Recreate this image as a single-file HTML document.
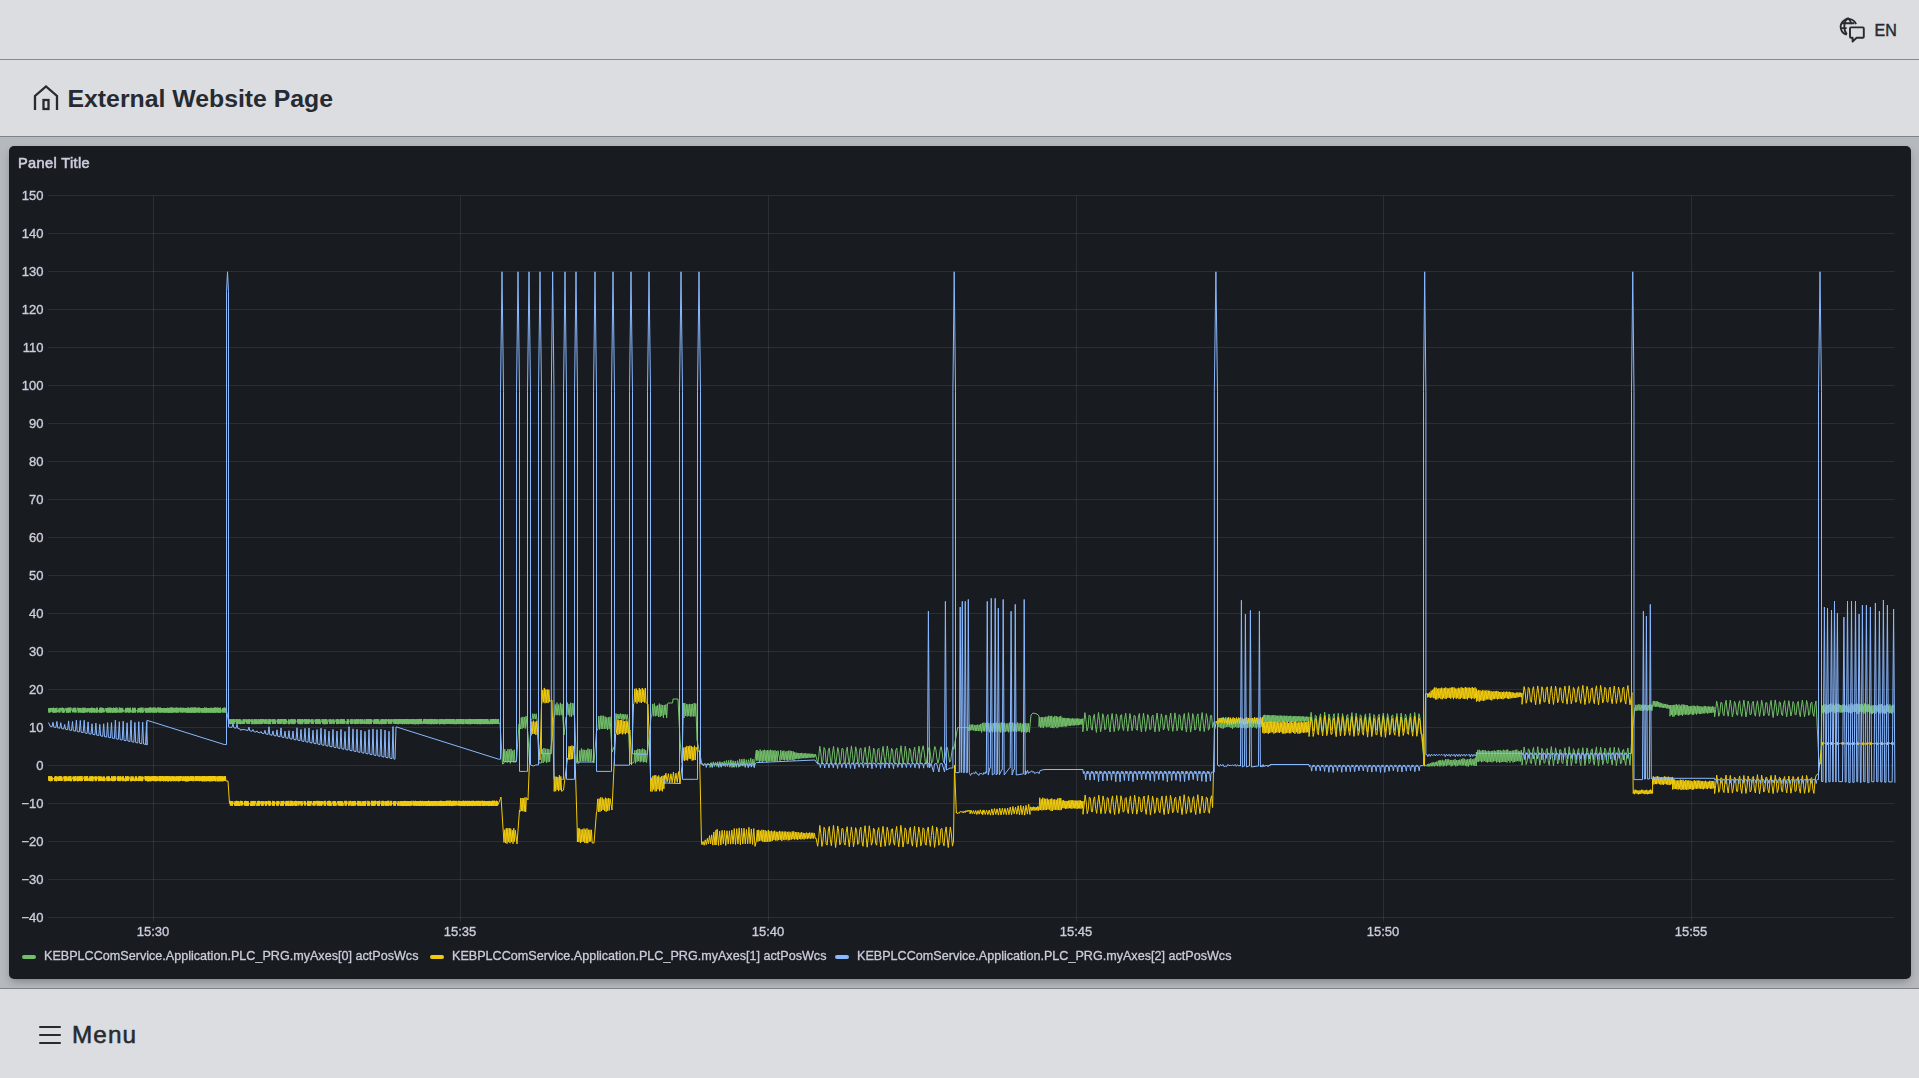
<!DOCTYPE html>
<html><head><meta charset="utf-8">
<style>
*{margin:0;padding:0;box-sizing:border-box}
html,body{width:1919px;height:1078px;overflow:hidden;background:#dcdde0;font-family:"Liberation Sans",sans-serif}
.ptitle,.yl,.xl,.lg{will-change:transform}
.hdr{position:absolute;left:0;top:0;width:1919px;height:59px;background:#dcdde0}
.l1{position:absolute;left:0;top:59px;width:1919px;height:1px;background:#878b90}
.tb{position:absolute;left:0;top:60px;width:1919px;height:76px;background:#dcdde0}
.l2{position:absolute;left:0;top:136px;width:1919px;height:1px;background:#7f8388}
.cont{position:absolute;left:0;top:137px;width:1919px;height:851px;background:#b5b9bd;overflow:hidden}
.l3{position:absolute;left:0;top:988px;width:1919px;height:1px;background:#7f8388}
.ftr{position:absolute;left:0;top:989px;width:1919px;height:89px;background:#dcdde0}
.panel{position:absolute;left:9px;top:146px;width:1902px;height:832.5px;background:#181b1f;border-radius:5px;box-shadow:0 4px 8px -2px rgba(0,0,0,0.32)}
.title{position:absolute;left:67.5px;top:85px;font-size:24.8px;font-weight:bold;color:#262a31;line-height:28px;white-space:nowrap}
.menu{position:absolute;left:72px;top:1020.5px;font-size:24.3px;letter-spacing:1.1px;color:#262a31;line-height:28px;white-space:nowrap;-webkit-text-stroke:0.55px #262a31}
.en{position:absolute;left:1874.5px;top:22px;font-size:16px;color:#262a31;line-height:18px;-webkit-text-stroke:0.45px #262a31}
.ptitle{position:absolute;left:17.5px;top:155.3px;font-size:14.6px;letter-spacing:0.35px;color:#ccccdc;-webkit-text-stroke:0.6px #ccccdc;line-height:16px;white-space:nowrap}
.yl{position:absolute;left:0;width:43.5px;text-align:right;font-size:13px;color:#ccccdc;-webkit-text-stroke:0.35px #ccccdc;line-height:14px}
.xl{position:absolute;top:924.5px;width:80px;text-align:center;font-size:13px;color:#ccccdc;-webkit-text-stroke:0.35px #ccccdc;line-height:14px}
.lg{position:absolute;top:949px;font-size:12.6px;color:#cbcbdb;-webkit-text-stroke:0.3px #cbcbdb;line-height:14px;white-space:nowrap}
.sw{position:absolute;top:955px;width:14px;height:4px;border-radius:2px}
svg{position:absolute;left:0;top:0}
</style></head><body>
<div class="hdr"></div><div class="l1"></div>
<div class="tb"></div><div class="l2"></div>
<div class="cont"></div>
<div class="panel"></div>
<div class="l3"></div><div class="ftr"></div>

<svg width="1919" height="1078" viewBox="0 0 1919 1078" style="pointer-events:none">
<g stroke="rgba(240,250,255,0.09)" stroke-width="1" fill="none"><line x1="48.5" y1="195.5" x2="1894.5" y2="195.5"/><line x1="48.5" y1="233.5" x2="1894.5" y2="233.5"/><line x1="48.5" y1="271.5" x2="1894.5" y2="271.5"/><line x1="48.5" y1="309.5" x2="1894.5" y2="309.5"/><line x1="48.5" y1="347.5" x2="1894.5" y2="347.5"/><line x1="48.5" y1="385.5" x2="1894.5" y2="385.5"/><line x1="48.5" y1="423.5" x2="1894.5" y2="423.5"/><line x1="48.5" y1="461.5" x2="1894.5" y2="461.5"/><line x1="48.5" y1="499.5" x2="1894.5" y2="499.5"/><line x1="48.5" y1="537.5" x2="1894.5" y2="537.5"/><line x1="48.5" y1="575.5" x2="1894.5" y2="575.5"/><line x1="48.5" y1="613.5" x2="1894.5" y2="613.5"/><line x1="48.5" y1="651.5" x2="1894.5" y2="651.5"/><line x1="48.5" y1="689.5" x2="1894.5" y2="689.5"/><line x1="48.5" y1="727.5" x2="1894.5" y2="727.5"/><line x1="48.5" y1="765.5" x2="1894.5" y2="765.5"/><line x1="48.5" y1="803.5" x2="1894.5" y2="803.5"/><line x1="48.5" y1="841.5" x2="1894.5" y2="841.5"/><line x1="48.5" y1="879.5" x2="1894.5" y2="879.5"/><line x1="48.5" y1="917.5" x2="1894.5" y2="917.5"/><line x1="153.5" y1="195.5" x2="153.5" y2="921.5"/><line x1="460.5" y1="195.5" x2="460.5" y2="921.5"/><line x1="768.5" y1="195.5" x2="768.5" y2="921.5"/><line x1="1076.5" y1="195.5" x2="1076.5" y2="921.5"/><line x1="1383.5" y1="195.5" x2="1383.5" y2="921.5"/><line x1="1691.5" y1="195.5" x2="1691.5" y2="921.5"/></g>
<g fill="none" stroke-width="1" stroke-linejoin="round">
<path stroke="#73bf69" d="M48.50 708.15 L48.85 712.57 L49.20 708.20 L49.55 712.50 L49.90 708.01 L50.25 712.19 L50.60 707.92 L50.95 712.17 L51.30 707.97 L51.65 709.87 L52.00 710.14 L52.35 712.23 L52.70 708.10 L53.05 712.56 L53.40 707.63 L53.75 712.53 L54.10 707.99 L54.45 712.78 L54.80 708.22 L55.15 712.71 L55.50 708.06 L55.85 712.24 L56.20 708.17 L56.55 712.35 L56.90 707.72 L57.25 712.27 L57.60 710.31 L57.95 710.10 L58.30 710.24 L58.65 712.19 L59.00 708.12 L59.35 712.59 L59.70 707.97 L60.05 712.35 L60.40 707.87 L60.75 710.04 L61.10 710.44 L61.45 710.36 L61.80 707.88 L62.15 712.49 L62.50 707.68 L62.85 712.62 L63.20 708.06 L63.55 712.79 L63.90 708.17 L64.25 712.42 L64.60 709.92 L64.95 710.19 L65.30 709.83 L65.65 710.33 L66.00 707.88 L66.35 712.72 L66.70 708.05 L67.05 712.60 L67.40 707.86 L67.75 712.53 L68.10 707.95 L68.45 712.70 L68.80 707.64 L69.15 712.46 L69.50 707.82 L69.85 712.19 L70.20 707.79 L70.55 712.57 L70.90 707.60 L71.25 710.03 L71.60 710.11 L71.95 710.33 L72.30 709.82 L72.65 712.26 L73.00 708.17 L73.35 712.19 L73.70 707.75 L74.05 712.23 L74.40 708.09 L74.75 712.40 L75.10 707.68 L75.45 712.20 L75.80 707.96 L76.15 712.51 L76.50 710.46 L76.85 710.49 L77.20 710.02 L77.55 710.13 L77.90 707.68 L78.25 712.77 L78.60 708.15 L78.95 712.26 L79.30 708.10 L79.65 712.30 L80.00 707.93 L80.35 712.53 L80.70 708.08 L81.05 710.14 L81.40 710.10 L81.75 712.77 L82.10 707.80 L82.45 712.49 L82.80 707.85 L83.15 712.59 L83.50 708.21 L83.85 712.73 L84.20 707.74 L84.55 712.72 L84.90 707.73 L85.25 712.41 L85.60 707.99 L85.95 710.31 L86.30 709.85 L86.65 712.29 L87.00 708.14 L87.35 712.37 L87.70 708.22 L88.05 712.15 L88.40 708.15 L88.75 710.09 L89.10 709.82 L89.45 712.55 L89.80 708.15 L90.15 712.31 L90.50 708.02 L90.85 712.39 L91.20 708.17 L91.55 712.70 L91.90 707.60 L92.25 712.45 L92.60 707.94 L92.95 712.21 L93.30 708.18 L93.65 712.37 L94.00 708.08 L94.35 712.69 L94.70 708.15 L95.05 710.56 L95.40 710.22 L95.75 712.50 L96.10 708.23 L96.45 712.49 L96.80 707.61 L97.15 712.71 L97.50 707.80 L97.85 712.32 L98.20 709.93 L98.55 710.42 L98.90 710.23 L99.25 712.36 L99.60 708.11 L99.95 712.68 L100.30 707.61 L100.65 712.70 L101.00 707.73 L101.35 712.68 L101.70 707.77 L102.05 712.30 L102.40 707.91 L102.75 712.38 L103.10 708.23 L103.45 712.17 L103.80 708.07 L104.15 712.32 L104.50 710.57 L104.85 710.16 L105.20 710.55 L105.55 710.59 L105.90 708.01 L106.25 712.29 L106.60 708.10 L106.95 712.28 L107.30 708.12 L107.65 712.56 L108.00 707.66 L108.35 712.70 L108.70 707.94 L109.05 712.57 L109.40 707.73 L109.75 712.21 L110.10 707.82 L110.45 712.74 L110.80 707.74 L111.15 712.64 L111.50 707.94 L111.85 710.43 L112.20 710.07 L112.55 712.78 L112.90 707.99 L113.25 712.41 L113.60 707.63 L113.95 712.62 L114.30 708.14 L114.65 712.23 L115.00 708.15 L115.35 712.74 L115.70 707.73 L116.05 712.25 L116.40 707.71 L116.75 712.79 L117.10 707.82 L117.45 712.38 L117.80 709.90 L118.15 709.81 L118.50 710.58 L118.85 712.49 L119.20 707.64 L119.55 712.43 L119.90 707.68 L120.25 712.69 L120.60 708.11 L120.95 712.31 L121.30 708.06 L121.65 712.31 L122.00 707.87 L122.35 712.32 L122.70 707.98 L123.05 712.24 L123.40 710.08 L123.75 710.17 L124.10 710.27 L124.45 710.52 L124.80 710.14 L125.15 712.48 L125.50 707.90 L125.85 712.49 L126.20 708.24 L126.55 712.44 L126.90 708.13 L127.25 712.15 L127.60 707.73 L127.95 712.26 L128.30 707.94 L128.65 712.62 L129.00 707.89 L129.35 712.36 L129.70 707.91 L130.05 712.51 L130.40 707.74 L130.75 712.22 L131.10 710.00 L131.45 710.02 L131.80 710.42 L132.15 712.52 L132.50 707.76 L132.85 712.74 L133.20 707.96 L133.55 712.55 L133.90 707.92 L134.25 712.48 L134.60 707.80 L134.95 712.44 L135.30 707.90 L135.65 712.46 L136.00 710.36 L136.35 710.50 L136.70 710.55 L137.05 710.01 L137.40 710.25 L137.75 712.70 L138.10 708.16 L138.45 712.23 L138.80 707.96 L139.15 712.20 L139.50 708.09 L139.85 712.20 L140.20 707.81 L140.55 712.66 L140.90 707.67 L141.25 712.25 L141.60 707.78 L141.95 712.58 L142.30 708.16 L142.65 712.72 L143.00 707.62 L143.35 712.29 L143.70 710.12 L144.05 710.19 L144.40 710.59 L144.75 710.47 L145.00 707.88 L145.35 712.57 L145.70 707.95 L146.05 712.36 L146.40 707.96 L146.75 712.71 L147.10 708.16 L147.45 712.60 L147.80 707.88 L148.15 712.24 L148.50 707.95 L148.85 712.65 L149.20 707.83 L149.55 712.27 L149.90 707.51 L150.25 712.76 L150.60 707.52 L150.95 712.30 L151.30 708.00 L151.65 712.25 L152.00 707.65 L152.35 712.41 L152.70 708.09 L153.05 712.51 L153.40 707.56 L153.75 712.78 L154.10 708.00 L154.45 712.33 L154.80 707.55 L155.15 712.61 L155.50 707.70 L155.85 712.29 L156.20 708.14 L156.55 712.69 L156.90 709.86 L157.25 710.55 L157.60 707.63 L157.95 712.28 L158.30 707.60 L158.65 712.27 L159.00 707.59 L159.35 712.53 L159.70 707.95 L160.05 712.60 L160.40 707.55 L160.75 712.41 L161.10 708.09 L161.45 712.58 L161.80 708.01 L162.15 712.30 L162.50 708.07 L162.85 712.26 L163.20 708.04 L163.55 712.44 L163.90 707.97 L164.25 712.74 L164.60 707.98 L164.95 712.56 L165.30 708.05 L165.65 712.46 L166.00 708.16 L166.35 712.39 L166.70 708.16 L167.05 712.72 L167.40 707.80 L167.75 712.35 L168.10 707.85 L168.45 712.86 L168.80 708.10 L169.15 712.78 L169.50 707.88 L169.85 712.56 L170.20 707.61 L170.55 712.49 L170.90 707.83 L171.25 712.69 L171.60 707.51 L171.95 712.46 L172.30 707.61 L172.65 712.70 L173.00 707.75 L173.35 712.50 L173.70 707.94 L174.05 712.26 L174.40 708.09 L174.75 712.27 L175.10 707.67 L175.45 712.40 L175.80 708.06 L176.15 712.28 L176.50 707.61 L176.85 712.81 L177.20 707.72 L177.55 712.42 L177.90 708.01 L178.25 712.42 L178.60 707.86 L178.95 712.33 L179.30 707.87 L179.65 710.57 L180.00 710.58 L180.35 712.39 L180.70 707.52 L181.05 712.43 L181.40 707.93 L181.75 712.23 L182.10 707.92 L182.45 712.55 L182.80 707.84 L183.15 712.36 L183.50 707.83 L183.85 712.23 L184.20 708.00 L184.55 712.29 L184.90 707.91 L185.25 712.25 L185.60 708.16 L185.95 712.43 L186.30 708.02 L186.65 712.62 L187.00 707.82 L187.35 712.73 L187.70 707.73 L188.05 712.71 L188.40 707.58 L188.75 712.49 L189.10 707.95 L189.45 712.89 L189.80 708.07 L190.15 712.71 L190.50 707.74 L190.85 712.25 L191.20 707.61 L191.55 712.83 L191.90 707.75 L192.25 712.72 L192.60 707.63 L192.95 712.32 L193.30 707.82 L193.65 712.57 L194.00 707.61 L194.35 712.77 L194.70 707.62 L195.05 712.62 L195.40 707.57 L195.75 712.69 L196.10 707.71 L196.45 712.38 L196.80 708.15 L197.15 712.31 L197.50 707.93 L197.85 712.30 L198.20 707.61 L198.55 712.60 L198.90 707.75 L199.25 712.65 L199.60 707.72 L199.95 712.56 L200.30 708.17 L200.65 710.40 L201.00 710.20 L201.35 712.67 L201.70 708.13 L202.05 712.72 L202.40 708.00 L202.75 712.28 L203.10 708.00 L203.45 712.72 L203.80 708.04 L204.15 712.72 L204.50 707.52 L204.85 712.56 L205.20 707.92 L205.55 712.55 L205.90 707.71 L206.25 712.74 L206.60 707.76 L206.95 712.66 L207.30 708.12 L207.65 712.32 L208.00 708.00 L208.35 712.73 L208.70 707.97 L209.05 712.61 L209.40 708.17 L209.75 712.27 L210.10 707.99 L210.45 712.68 L210.80 707.71 L211.15 712.68 L211.50 707.98 L211.85 712.57 L212.20 707.86 L212.55 712.54 L212.90 708.10 L213.25 712.83 L213.60 708.04 L213.95 712.89 L214.30 707.54 L214.65 712.24 L215.00 707.87 L215.35 712.78 L215.70 707.52 L216.05 712.53 L216.40 707.99 L216.75 712.37 L217.10 707.54 L217.45 712.37 L217.80 707.78 L218.15 712.32 L218.50 707.82 L218.85 712.87 L219.20 708.09 L219.55 712.78 L219.90 707.83 L220.25 712.82 L220.60 707.70 L220.95 712.38 L221.30 710.19 L221.65 709.82 L222.00 709.80 L222.35 712.53 L222.70 707.97 L223.05 712.32 L223.40 707.94 L223.75 712.44 L224.10 707.61 L224.45 712.23 L224.80 707.67 L225.15 712.79 L225.50 708.09 L227.00 713.00 L228.50 721.50 L229.00 719.19 L229.35 724.14 L229.70 719.46 L230.05 723.79 L230.40 719.39 L230.75 724.20 L231.10 719.27 L231.45 723.78 L231.80 719.37 L232.15 723.73 L232.50 719.62 L232.85 723.62 L233.20 719.11 L233.55 723.74 L233.90 719.04 L234.25 723.71 L234.60 719.48 L234.95 721.35 L235.30 721.50 L235.65 721.96 L236.00 719.12 L236.35 723.96 L236.70 719.06 L237.05 724.16 L237.40 719.29 L237.75 724.02 L238.10 719.62 L238.45 724.03 L238.80 719.36 L239.15 724.04 L239.50 719.23 L239.85 723.74 L240.20 719.62 L240.55 724.15 L240.90 719.57 L241.25 723.86 L241.60 721.44 L241.95 721.79 L242.30 721.98 L242.65 723.98 L243.00 719.45 L243.35 723.91 L243.70 719.39 L244.05 723.66 L244.40 719.54 L244.75 723.69 L245.10 719.06 L245.45 721.38 L245.80 721.93 L246.15 722.00 L246.50 719.56 L246.85 723.68 L247.20 719.59 L247.55 723.77 L247.90 719.59 L248.25 723.71 L248.60 719.48 L248.95 723.92 L249.30 719.07 L249.65 724.04 L250.00 719.38 L250.35 721.62 L250.70 721.50 L251.05 721.47 L251.40 719.47 L251.75 724.18 L252.10 719.57 L252.45 723.88 L252.80 719.24 L253.15 724.11 L253.50 721.42 L253.85 721.40 L254.20 719.36 L254.55 724.17 L254.90 719.10 L255.25 724.12 L255.60 719.64 L255.95 723.57 L256.30 719.19 L256.65 724.13 L257.00 719.34 L257.35 723.93 L257.70 721.51 L258.05 721.94 L258.40 719.09 L258.75 724.18 L259.10 719.49 L259.45 723.62 L259.80 719.55 L260.15 723.89 L260.50 719.21 L260.85 724.16 L261.20 719.18 L261.55 723.97 L261.90 719.15 L262.25 723.85 L262.60 719.29 L262.95 723.58 L263.30 719.14 L263.65 721.94 L264.00 721.72 L264.35 723.63 L264.70 719.49 L265.05 723.96 L265.40 719.20 L265.75 723.62 L266.10 719.60 L266.45 723.89 L266.80 719.27 L267.15 723.80 L267.50 721.68 L267.85 721.21 L268.20 719.35 L268.55 724.17 L268.90 719.23 L269.25 724.12 L269.60 719.34 L269.95 723.70 L270.30 719.49 L270.65 724.17 L271.00 719.19 L271.35 721.22 L271.70 721.60 L272.05 721.74 L272.40 719.48 L272.75 723.98 L273.10 719.05 L273.45 723.70 L273.80 719.63 L274.15 723.77 L274.50 719.38 L274.85 723.99 L275.20 719.52 L275.55 724.07 L275.90 721.60 L276.25 721.36 L276.60 721.98 L276.95 721.45 L277.30 719.50 L277.65 723.69 L278.00 719.16 L278.35 723.74 L278.70 719.03 L279.05 723.87 L279.40 719.53 L279.75 723.70 L280.10 719.38 L280.45 723.98 L280.80 719.03 L281.15 723.65 L281.50 719.39 L281.85 723.69 L282.20 719.02 L282.55 721.24 L282.90 721.25 L283.25 724.13 L283.60 719.08 L283.95 724.03 L284.30 719.00 L284.65 724.16 L285.00 719.44 L285.35 723.67 L285.70 719.04 L286.05 724.04 L286.40 719.63 L286.75 721.50 L287.10 721.50 L287.45 721.47 L287.80 721.34 L288.15 723.73 L288.50 719.42 L288.85 724.17 L289.20 719.57 L289.55 724.18 L289.90 721.49 L290.25 721.86 L290.60 719.37 L290.95 723.58 L291.30 719.34 L291.65 723.79 L292.00 719.05 L292.35 723.68 L292.70 719.41 L293.05 724.13 L293.40 719.63 L293.75 723.82 L294.10 719.12 L294.45 724.05 L294.80 719.62 L295.15 723.57 L295.50 719.61 L295.85 721.41 L296.20 721.80 L296.55 721.92 L296.90 721.47 L297.25 721.42 L297.60 719.25 L297.95 723.72 L298.30 719.18 L298.65 723.76 L299.00 719.47 L299.35 723.55 L299.70 719.16 L300.05 724.15 L300.40 719.24 L300.75 724.16 L301.10 719.63 L301.45 723.70 L301.80 719.34 L302.15 724.17 L302.50 719.03 L302.85 723.80 L303.20 719.49 L303.55 721.59 L303.90 721.94 L304.25 721.35 L304.60 719.17 L304.95 724.08 L305.30 719.15 L305.65 723.94 L306.00 719.44 L306.35 723.76 L306.70 719.41 L307.05 724.06 L307.40 719.60 L307.75 723.68 L308.10 719.16 L308.45 723.71 L308.80 719.61 L309.15 723.57 L309.50 719.29 L309.85 721.98 L310.20 721.91 L310.55 721.99 L310.90 719.60 L311.25 723.61 L311.60 719.33 L311.95 724.01 L312.30 719.36 L312.65 723.70 L313.00 719.38 L313.35 723.95 L313.70 721.80 L314.05 721.88 L314.40 721.73 L314.75 721.30 L315.10 719.46 L315.45 723.92 L315.80 719.41 L316.15 724.03 L316.50 719.52 L316.85 723.71 L317.20 719.49 L317.55 723.65 L317.90 719.08 L318.25 723.93 L318.60 719.44 L318.95 723.81 L319.30 719.00 L319.65 723.88 L320.00 719.50 L320.35 724.08 L320.70 721.99 L321.05 721.28 L321.40 721.58 L321.75 721.86 L322.10 719.06 L322.45 723.58 L322.80 719.46 L323.15 723.63 L323.50 719.53 L323.85 724.18 L324.20 719.27 L324.55 724.15 L324.90 719.41 L325.25 724.11 L325.60 719.36 L325.95 723.72 L326.30 719.14 L326.65 724.16 L327.00 719.58 L327.35 723.94 L327.70 721.37 L328.05 721.49 L328.40 721.31 L328.75 721.36 L329.10 719.26 L329.45 723.97 L329.80 719.52 L330.15 723.56 L330.50 719.44 L330.85 723.99 L331.20 719.53 L331.55 723.75 L331.90 721.84 L332.25 721.64 L332.60 719.58 L332.95 723.81 L333.30 719.29 L333.65 723.97 L334.00 719.59 L334.35 723.66 L334.70 721.53 L335.05 721.43 L335.40 721.45 L335.75 721.96 L336.10 719.28 L336.45 723.78 L336.80 719.38 L337.15 724.11 L337.50 719.00 L337.85 723.79 L338.20 719.52 L338.55 724.02 L338.90 719.52 L339.25 721.92 L339.60 721.54 L339.95 723.81 L340.30 719.08 L340.65 723.85 L341.00 719.54 L341.35 723.56 L341.70 719.29 L342.05 723.97 L342.40 719.06 L342.75 723.61 L343.10 719.25 L343.45 723.79 L343.80 719.32 L344.15 723.64 L344.50 719.47 L344.85 723.89 L345.20 721.29 L345.55 721.59 L345.90 721.84 L346.25 721.97 L346.60 721.36 L346.95 724.16 L347.30 719.02 L347.65 723.86 L348.00 719.62 L348.35 724.15 L348.70 719.40 L349.05 721.70 L349.40 721.86 L349.75 721.33 L350.10 721.83 L350.45 723.81 L350.80 719.10 L351.15 724.09 L351.50 719.53 L351.85 723.69 L352.20 719.39 L352.55 723.89 L352.90 719.40 L353.25 721.40 L353.60 721.78 L353.95 723.58 L354.30 719.28 L354.65 724.04 L355.00 719.63 L355.35 724.09 L355.70 719.57 L356.05 723.94 L356.40 719.29 L356.75 723.96 L357.10 719.45 L357.45 723.82 L357.80 719.27 L358.15 723.83 L358.50 719.22 L358.85 723.84 L359.20 719.37 L359.55 721.70 L359.90 721.59 L360.25 724.05 L360.60 719.14 L360.95 723.85 L361.30 719.53 L361.65 723.86 L362.00 719.58 L362.35 723.63 L362.70 719.37 L363.05 721.55 L363.40 721.61 L363.75 723.96 L364.10 719.60 L364.45 724.03 L364.80 719.14 L365.15 723.88 L365.50 721.60 L365.85 721.50 L366.20 719.56 L366.55 724.11 L366.90 719.00 L367.25 724.03 L367.60 719.12 L367.95 723.68 L368.30 719.01 L368.65 723.87 L369.00 719.03 L369.35 724.15 L369.70 719.54 L370.05 724.06 L370.40 719.05 L370.75 723.59 L371.10 719.42 L371.45 724.04 L371.80 719.55 L372.15 721.42 L372.50 721.85 L372.85 721.31 L373.20 721.60 L373.55 723.69 L373.90 719.48 L374.25 723.88 L374.60 719.44 L374.95 723.57 L375.30 719.53 L375.65 723.65 L376.00 719.04 L376.35 723.99 L376.70 719.07 L377.05 723.66 L377.40 719.14 L377.75 723.62 L378.10 719.31 L378.45 723.96 L378.80 719.42 L379.15 724.12 L379.50 721.66 L379.85 721.91 L380.20 721.28 L380.55 723.96 L380.90 719.39 L381.25 724.07 L381.60 719.48 L381.95 724.19 L382.30 719.27 L382.65 723.78 L383.00 719.15 L383.35 723.84 L383.70 719.54 L384.05 724.03 L384.40 719.62 L384.75 724.08 L385.10 719.49 L385.45 723.97 L385.80 719.01 L386.15 723.93 L386.50 719.22 L386.85 721.20 L387.20 721.23 L387.55 721.32 L387.90 719.37 L388.25 723.88 L388.60 719.07 L388.95 723.64 L389.30 719.50 L389.65 723.97 L390.00 719.64 L390.35 723.55 L390.70 719.42 L391.05 723.62 L391.40 719.42 L391.75 723.70 L392.10 719.27 L392.45 721.36 L392.80 721.70 L393.15 721.58 L393.50 719.04 L393.85 723.71 L394.20 719.55 L394.55 723.61 L394.90 719.24 L395.00 719.05 L395.35 723.90 L395.70 719.40 L396.05 723.63 L396.40 719.14 L396.75 724.00 L397.10 719.34 L397.45 724.06 L397.80 719.28 L398.15 724.26 L398.50 719.08 L398.85 723.79 L399.20 718.97 L399.55 723.65 L399.90 719.22 L400.25 723.90 L400.60 719.41 L400.95 723.66 L401.30 719.05 L401.65 723.63 L402.00 719.20 L402.35 724.26 L402.70 719.48 L403.05 723.76 L403.40 719.16 L403.75 723.97 L404.10 719.14 L404.45 724.17 L404.80 719.46 L405.15 723.83 L405.50 719.37 L405.85 723.66 L406.20 718.97 L406.55 724.15 L406.90 719.09 L407.25 723.63 L407.60 719.01 L407.95 724.13 L408.30 719.26 L408.65 724.13 L409.00 719.27 L409.35 723.78 L409.70 719.50 L410.05 723.78 L410.40 719.55 L410.75 723.85 L411.10 719.07 L411.45 724.09 L411.80 719.00 L412.15 724.11 L412.50 719.40 L412.85 724.00 L413.20 719.28 L413.55 724.16 L413.90 719.22 L414.25 723.80 L414.60 719.14 L414.95 724.28 L415.30 719.43 L415.65 724.22 L416.00 719.56 L416.35 723.80 L416.70 719.42 L417.05 724.13 L417.40 718.94 L417.75 724.13 L418.10 719.35 L418.45 724.22 L418.80 719.35 L419.15 723.79 L419.50 718.96 L419.85 724.05 L420.20 719.11 L420.55 724.07 L420.90 718.91 L421.25 723.94 L421.60 719.01 L421.95 724.10 L422.30 721.55 L422.65 721.78 L423.00 721.66 L423.35 723.77 L423.70 719.15 L424.05 723.68 L424.40 718.96 L424.75 723.72 L425.10 719.56 L425.45 723.70 L425.80 718.95 L426.15 723.86 L426.50 719.48 L426.85 723.64 L427.20 719.55 L427.55 724.09 L427.90 719.15 L428.25 724.10 L428.60 719.08 L428.95 723.67 L429.30 719.18 L429.65 723.87 L430.00 719.02 L430.35 724.18 L430.70 718.97 L431.05 723.67 L431.40 718.99 L431.75 724.24 L432.10 718.94 L432.45 723.70 L432.80 719.44 L433.15 723.70 L433.50 719.55 L433.85 724.20 L434.20 719.03 L434.55 724.05 L434.90 719.02 L435.25 724.05 L435.60 719.38 L435.95 723.69 L436.30 719.51 L436.65 724.14 L437.00 719.44 L437.35 723.84 L437.70 719.29 L438.05 723.64 L438.40 721.43 L438.75 721.77 L439.10 719.36 L439.45 724.28 L439.80 719.23 L440.15 724.20 L440.50 719.16 L440.85 723.65 L441.20 719.30 L441.55 723.92 L441.90 719.05 L442.25 723.86 L442.60 719.10 L442.95 723.99 L443.30 719.43 L443.65 724.21 L444.00 719.51 L444.35 724.18 L444.70 719.46 L445.05 723.63 L445.40 719.44 L445.75 724.14 L446.10 718.91 L446.45 723.63 L446.80 719.24 L447.15 723.96 L447.50 719.04 L447.85 723.75 L448.20 719.24 L448.55 723.86 L448.90 719.01 L449.25 723.80 L449.60 718.94 L449.95 723.82 L450.30 719.43 L450.65 724.10 L451.00 719.24 L451.35 723.70 L451.70 719.15 L452.05 723.68 L452.40 719.04 L452.75 724.10 L453.10 719.04 L453.45 724.05 L453.80 719.33 L454.15 723.90 L454.50 719.31 L454.85 724.23 L455.20 721.91 L455.55 723.76 L455.90 719.40 L456.25 724.23 L456.60 719.24 L456.95 723.88 L457.30 718.98 L457.65 723.78 L458.00 719.26 L458.35 723.98 L458.70 719.07 L459.05 724.13 L459.40 719.14 L459.75 723.86 L460.10 719.35 L460.45 723.73 L460.80 719.01 L461.15 724.07 L461.50 719.07 L461.85 723.74 L462.20 719.28 L462.55 724.15 L462.90 719.18 L463.25 723.71 L463.60 719.26 L463.95 724.22 L464.30 721.35 L464.65 721.44 L465.00 719.01 L465.35 723.73 L465.70 719.47 L466.05 723.79 L466.40 719.35 L466.75 723.98 L467.10 719.47 L467.45 723.85 L467.80 719.45 L468.15 724.28 L468.50 719.08 L468.85 723.69 L469.20 718.93 L469.55 723.69 L469.90 719.32 L470.25 724.29 L470.60 719.04 L470.95 724.12 L471.30 719.28 L471.65 723.76 L472.00 719.14 L472.35 723.70 L472.70 719.44 L473.05 723.89 L473.40 719.55 L473.75 723.89 L474.10 719.04 L474.45 724.09 L474.80 719.24 L475.15 724.05 L475.50 719.26 L475.85 723.72 L476.20 719.17 L476.55 723.90 L476.90 719.07 L477.25 724.24 L477.60 719.28 L477.95 724.01 L478.30 719.07 L478.65 723.91 L479.00 719.42 L479.35 724.11 L479.70 718.98 L480.05 724.15 L480.40 719.10 L480.75 724.20 L481.10 719.12 L481.45 724.06 L481.80 719.27 L482.15 723.84 L482.50 719.15 L482.85 723.69 L483.20 719.29 L483.55 724.15 L483.90 719.09 L484.25 724.05 L484.60 719.41 L484.95 723.91 L485.30 719.27 L485.65 724.04 L486.00 719.30 L486.35 724.08 L486.70 718.95 L487.05 723.75 L487.40 719.13 L487.75 724.15 L488.10 719.31 L488.45 723.96 L488.80 721.23 L489.15 721.63 L489.50 721.33 L489.85 724.26 L490.20 719.22 L490.55 723.69 L490.90 719.19 L491.25 723.99 L491.60 719.09 L491.95 723.97 L492.30 719.14 L492.65 724.18 L493.00 719.22 L493.35 723.90 L493.70 718.94 L494.05 723.77 L494.40 719.11 L494.75 723.89 L495.10 719.06 L495.45 723.71 L495.80 718.91 L496.15 723.86 L496.50 719.54 L496.85 723.81 L497.20 719.31 L497.55 723.63 L497.90 719.29 L498.25 723.91 L498.60 719.10 L498.95 723.86 L500.00 723.00 L502.50 764.00 L504.00 763.28 L504.79 749.11 L505.57 761.99 L506.36 751.05 L507.14 762.57 L507.93 749.09 L508.71 761.83 L509.50 749.56 L510.29 763.42 L511.07 748.85 L511.86 761.89 L512.64 750.70 L513.43 762.28 L514.21 749.77 L515.00 762.48 L516.50 760.00 L519.00 724.00 L520.50 729.03 L521.29 717.52 L522.07 728.76 L522.86 716.84 L523.64 727.78 L524.43 717.21 L525.21 728.52 L526.00 716.12 L528.00 735.00 L529.50 763.00 L531.00 720.00 L532.00 719.47 L532.83 713.62 L533.67 719.19 L534.50 713.85 L535.33 719.17 L536.17 713.76 L537.00 719.63 L539.00 763.00 L541.50 762.81 L542.32 749.16 L543.14 763.00 L543.95 748.01 L544.77 761.54 L545.59 748.76 L546.41 762.84 L547.23 748.82 L548.05 762.20 L548.86 749.16 L549.68 761.77 L550.50 749.79 L552.00 740.00 L554.00 717.00 L554.50 716.21 L555.33 704.52 L556.17 715.14 L557.00 702.62 L557.83 715.20 L558.67 704.47 L559.50 715.29 L560.33 702.81 L561.17 715.19 L562.00 703.88 L564.00 735.00 L566.00 717.00 L566.50 716.97 L567.33 702.52 L568.17 714.93 L569.00 703.93 L569.83 716.46 L570.67 702.72 L571.50 716.69 L572.33 703.01 L573.17 715.31 L574.00 703.25 L576.50 763.00 L579.00 763.09 L579.81 750.45 L580.62 761.35 L581.44 748.46 L582.25 761.08 L583.06 749.65 L583.88 761.38 L584.69 749.81 L585.50 761.08 L586.31 750.14 L587.12 761.22 L587.94 748.54 L588.75 761.62 L589.56 749.44 L590.38 761.49 L591.19 749.19 L592.00 761.11 L594.00 763.00 L596.50 731.00 L598.00 728.79 L598.80 716.08 L599.60 729.49 L600.40 715.80 L601.20 728.93 L602.00 715.63 L602.80 728.98 L603.60 715.81 L604.40 728.93 L605.20 716.58 L606.00 728.83 L606.80 717.38 L607.60 729.99 L608.40 717.33 L609.20 728.98 L610.00 716.72 L612.00 752.00 L614.50 746.00 L616.00 713.50 L616.50 719.35 L617.32 714.32 L618.14 719.63 L618.96 713.91 L619.79 719.06 L620.61 713.57 L621.43 719.38 L622.25 714.12 L623.07 719.97 L623.89 714.09 L624.71 719.33 L625.54 714.41 L626.36 719.68 L627.18 714.46 L628.00 719.50 L630.00 763.50 L632.50 763.00 L634.00 762.19 L634.78 750.43 L635.56 763.41 L636.34 749.95 L637.12 761.80 L637.91 748.92 L638.69 761.16 L639.47 748.99 L640.25 762.21 L641.03 749.43 L641.81 761.41 L642.59 748.57 L643.38 762.32 L644.16 749.15 L644.94 762.00 L645.72 750.24 L646.50 762.71 L651.00 717.00 L652.00 715.11 L652.82 703.91 L653.63 716.24 L654.45 703.45 L655.26 716.23 L656.08 705.90 L656.89 715.72 L657.71 705.26 L658.53 716.85 L659.34 703.61 L660.16 716.96 L660.97 704.55 L661.79 715.79 L662.61 705.23 L663.42 717.86 L664.24 705.02 L665.05 714.91 L665.87 704.40 L666.68 717.83 L667.50 703.55 L668.00 703.00 L672.50 703.00 L673.00 699.00 L678.00 699.00 L680.00 740.00 L682.00 763.00 L683.50 703.00 L684.00 717.99 L684.79 702.94 L685.57 715.86 L686.36 703.92 L687.15 716.47 L687.93 704.33 L688.72 715.88 L689.51 703.92 L690.29 716.57 L691.08 703.96 L691.87 716.38 L692.65 703.89 L693.44 716.42 L694.23 702.99 L695.01 716.45 L695.80 703.56 L697.00 740.00 L702.00 764.50 L702.50 764.10 L703.44 765.01 L704.38 764.91 L705.31 764.37 L706.25 764.79 L707.19 765.17 L708.12 763.72 L709.06 765.29 L710.00 764.93 L710.00 767.44 L711.10 762.52 L712.20 767.45 L713.30 761.80 L714.40 766.54 L715.50 762.14 L716.60 766.37 L717.70 761.77 L718.80 767.48 L719.90 761.49 L721.00 766.72 L722.10 762.03 L723.20 766.16 L724.30 761.20 L725.40 766.92 L726.50 760.46 L727.60 766.56 L728.70 760.40 L729.80 767.27 L730.90 759.89 L732.00 767.49 L733.10 760.71 L734.20 767.31 L735.30 760.98 L736.40 767.36 L737.50 760.63 L738.60 767.28 L739.70 758.99 L740.80 766.26 L741.90 759.16 L743.00 766.20 L744.10 758.85 L745.20 767.41 L746.30 759.71 L747.40 766.17 L748.50 759.68 L749.60 766.11 L750.70 758.00 L751.80 766.27 L752.90 759.02 L754.00 766.58 L756.40 750.00 L756.40 760.68 L757.14 750.00 L757.89 760.62 L758.63 750.90 L759.38 762.48 L760.12 749.53 L760.87 761.23 L761.61 751.09 L762.36 762.34 L763.10 750.11 L763.85 761.08 L764.59 749.82 L765.34 760.82 L766.08 750.45 L766.83 762.38 L767.57 750.22 L768.32 761.38 L769.06 750.36 L769.81 761.18 L770.55 749.78 L771.30 760.95 L772.04 750.21 L772.79 761.24 L773.53 750.73 L774.28 761.68 L775.02 750.25 L775.77 760.97 L776.51 751.34 L777.26 760.97 L778.00 750.61 L780.00 760.80 L780.78 750.10 L781.56 759.65 L782.33 751.19 L783.11 759.90 L783.89 750.56 L784.67 760.27 L785.44 751.66 L786.22 759.89 L787.00 751.02 L787.78 760.78 L788.56 750.73 L789.33 759.79 L790.11 750.64 L790.89 760.14 L791.67 751.02 L792.44 759.78 L793.22 751.37 L794.00 760.82 L794.00 759.50 L794.69 752.26 L795.39 759.06 L796.08 752.61 L796.77 758.67 L797.47 752.93 L798.16 759.08 L798.85 753.00 L799.55 758.46 L800.24 753.13 L800.94 758.50 L801.63 752.88 L802.32 758.22 L803.02 753.31 L803.71 758.21 L804.40 753.48 L805.10 758.28 L805.79 753.14 L806.48 758.05 L807.18 753.63 L807.87 758.11 L808.56 753.71 L809.26 757.65 L809.95 753.59 L810.65 757.68 L811.34 753.90 L812.03 757.63 L812.73 753.82 L813.42 757.59 L814.11 754.15 L814.81 757.28 L815.50 754.16 L817.50 762.00 L817.70 764.15 L818.75 756.54 L819.81 746.22 L820.86 753.06 L821.92 764.17 L822.97 760.20 L824.03 747.51 L825.08 749.77 L826.14 762.05 L827.19 762.78 L828.25 750.77 L829.30 747.92 L830.36 758.92 L831.41 764.65 L832.46 753.86 L833.52 746.39 L834.57 755.59 L835.63 764.74 L836.68 757.30 L837.74 747.49 L838.79 751.80 L839.85 763.51 L840.90 760.37 L841.96 748.38 L843.01 748.81 L844.07 761.07 L845.12 763.34 L846.18 751.41 L847.23 747.11 L848.28 758.04 L849.34 763.91 L850.39 754.65 L851.45 745.90 L852.50 754.68 L853.56 764.68 L854.61 758.18 L855.67 746.77 L856.72 751.32 L857.78 763.75 L858.83 761.68 L859.89 748.81 L860.94 747.97 L861.99 760.46 L863.05 763.08 L864.10 752.29 L865.16 747.28 L866.21 757.24 L867.27 764.05 L868.32 755.63 L869.38 745.94 L870.43 753.80 L871.49 764.99 L872.54 759.37 L873.60 748.11 L874.65 750.40 L875.71 762.54 L876.76 761.70 L877.81 749.39 L878.87 748.27 L879.92 759.93 L880.98 764.27 L882.03 752.78 L883.09 746.36 L884.14 756.44 L885.20 764.68 L886.25 756.49 L887.31 745.95 L888.36 752.69 L889.42 763.66 L890.47 759.63 L891.52 748.31 L892.58 749.90 L893.63 762.46 L894.69 763.17 L895.74 750.27 L896.80 748.10 L897.85 759.22 L898.91 764.68 L899.96 753.82 L901.02 745.76 L902.07 755.55 L903.13 764.18 L904.18 757.51 L905.24 746.23 L906.29 751.95 L907.34 763.39 L908.40 760.81 L909.45 748.26 L910.51 749.50 L911.56 761.20 L912.62 762.94 L913.67 751.59 L914.73 747.14 L915.78 758.06 L916.84 764.21 L917.89 754.81 L918.95 746.18 L920.00 754.72 L920.00 763.61 L921.06 758.39 L922.11 750.02 L923.17 745.74 L924.23 752.43 L925.28 761.43 L926.34 763.25 L927.39 755.76 L928.45 747.99 L929.51 747.43 L930.56 755.27 L931.62 763.18 L932.67 761.62 L933.73 752.66 L934.79 746.47 L935.84 749.46 L936.90 758.41 L937.96 763.27 L939.01 759.02 L940.07 750.23 L941.12 746.65 L942.18 752.15 L943.24 760.93 L944.29 762.98 L945.35 756.01 L946.41 747.38 L947.46 747.46 L948.52 754.92 L949.57 762.04 L950.63 761.25 L951.69 752.99 L952.74 746.72 L953.80 749.33 L957.60 727.60 L968.80 727.60 L968.80 730.79 L969.60 724.73 L970.40 730.37 L971.20 724.52 L972.00 730.29 L972.80 724.46 L973.60 730.37 L974.40 725.09 L975.20 731.08 L976.00 724.89 L976.80 731.00 L977.60 724.67 L978.40 731.09 L979.20 724.78 L980.00 730.27 L980.00 731.09 L980.80 723.90 L981.59 732.45 L982.39 722.94 L983.19 731.24 L983.98 722.59 L984.78 731.50 L985.58 722.94 L986.37 731.12 L987.17 722.52 L987.97 731.38 L988.77 723.02 L989.56 732.39 L990.36 722.50 L991.16 731.34 L991.95 723.30 L992.75 732.32 L993.55 723.16 L994.34 731.22 L995.14 722.83 L995.94 731.73 L996.73 722.71 L997.53 732.33 L998.33 723.67 L999.12 731.52 L999.92 722.80 L1000.72 732.48 L1001.51 722.63 L1002.31 731.68 L1003.11 723.25 L1003.90 732.19 L1004.70 722.81 L1005.50 731.67 L1006.30 723.57 L1007.09 731.37 L1007.89 723.38 L1008.69 732.29 L1009.48 722.60 L1010.28 731.49 L1011.08 723.12 L1011.87 731.51 L1012.67 722.58 L1013.47 731.37 L1014.26 723.01 L1015.06 731.32 L1015.86 723.81 L1016.65 731.85 L1017.45 722.52 L1018.25 731.22 L1019.04 723.22 L1019.84 731.28 L1020.64 722.90 L1021.43 732.32 L1022.23 723.76 L1023.03 732.04 L1023.83 722.75 L1024.62 732.04 L1025.42 723.40 L1026.22 732.59 L1027.01 723.29 L1027.81 731.92 L1028.61 723.28 L1029.40 732.42 L1030.20 723.58 L1031.00 715.00 L1033.00 713.00 L1037.00 714.00 L1039.00 716.00 L1039.00 726.67 L1039.75 717.32 L1040.50 727.60 L1041.25 717.03 L1042.00 727.48 L1042.75 717.11 L1043.50 728.09 L1044.25 717.34 L1045.00 726.41 L1045.75 716.63 L1046.50 727.24 L1047.25 716.69 L1048.00 727.19 L1048.75 715.74 L1049.50 726.39 L1050.25 716.12 L1051.00 727.86 L1051.75 715.89 L1052.50 727.73 L1053.25 717.23 L1054.00 728.14 L1054.75 715.88 L1055.50 726.89 L1056.25 716.07 L1057.00 728.17 L1057.75 716.82 L1058.50 727.12 L1059.25 716.68 L1060.00 726.88 L1060.75 715.89 L1061.50 726.57 L1061.50 726.32 L1062.15 717.57 L1062.79 726.76 L1063.44 718.05 L1064.08 726.30 L1064.73 717.90 L1065.37 726.53 L1066.02 718.07 L1066.66 726.40 L1067.31 718.29 L1067.95 725.65 L1068.60 717.96 L1069.25 725.79 L1069.89 718.51 L1070.54 726.02 L1071.18 718.63 L1071.83 725.28 L1072.47 718.32 L1073.12 725.58 L1073.76 718.73 L1074.41 725.38 L1075.05 718.44 L1075.70 724.96 L1076.35 718.77 L1076.99 725.30 L1077.64 718.43 L1078.28 725.19 L1078.93 718.63 L1079.57 724.62 L1080.22 718.93 L1080.86 724.56 L1081.51 718.98 L1082.15 724.50 L1082.80 718.53 L1082.80 731.87 L1083.85 723.55 L1084.89 712.64 L1085.94 719.55 L1086.99 730.85 L1088.03 727.43 L1089.08 715.17 L1090.13 715.92 L1091.17 728.06 L1092.22 730.18 L1093.27 718.12 L1094.31 714.37 L1095.36 724.72 L1096.41 732.44 L1097.45 722.04 L1098.50 712.42 L1099.55 720.76 L1100.60 731.91 L1101.64 726.29 L1102.69 713.72 L1103.74 717.45 L1104.78 729.65 L1105.83 729.13 L1106.88 716.76 L1107.92 714.60 L1108.97 726.23 L1110.02 732.03 L1111.06 720.62 L1112.11 713.47 L1113.16 722.21 L1114.20 731.65 L1115.25 724.89 L1116.30 713.95 L1117.34 718.39 L1118.39 730.53 L1119.44 728.00 L1120.48 715.74 L1121.53 714.55 L1122.58 727.46 L1123.62 730.58 L1124.67 719.31 L1125.72 713.27 L1126.76 723.55 L1127.81 731.27 L1128.86 723.27 L1129.90 713.56 L1130.95 719.61 L1132.00 730.72 L1133.05 727.00 L1134.09 715.42 L1135.14 716.01 L1136.19 728.93 L1137.23 730.32 L1138.28 717.94 L1139.33 713.54 L1140.37 724.88 L1141.42 732.02 L1142.47 721.91 L1143.51 713.00 L1144.56 720.92 L1145.61 731.45 L1146.65 725.82 L1147.70 714.51 L1148.75 717.40 L1149.79 729.60 L1150.84 729.16 L1151.89 716.73 L1152.93 715.02 L1153.98 726.24 L1155.03 731.89 L1156.07 720.59 L1157.12 713.02 L1158.17 722.35 L1159.21 731.45 L1160.26 724.75 L1161.31 713.89 L1162.35 718.21 L1163.40 729.98 L1164.45 727.84 L1165.50 715.34 L1166.54 715.26 L1167.59 727.21 L1168.64 730.68 L1169.68 719.18 L1170.73 713.01 L1171.78 723.68 L1172.82 731.42 L1173.87 723.23 L1174.92 712.87 L1175.96 719.86 L1177.01 730.85 L1178.06 726.96 L1179.10 714.61 L1180.15 716.05 L1181.20 729.06 L1182.24 730.49 L1183.29 717.85 L1184.34 713.47 L1185.38 725.26 L1186.43 732.07 L1187.48 721.77 L1188.52 712.63 L1189.57 721.05 L1190.62 732.15 L1191.66 725.59 L1192.71 713.59 L1193.76 717.70 L1194.80 729.99 L1195.85 729.28 L1196.90 716.69 L1197.95 713.85 L1198.99 726.52 L1200.04 731.20 L1201.09 720.27 L1202.13 712.56 L1203.18 722.50 L1204.23 731.61 L1205.27 724.42 L1206.32 713.60 L1207.37 718.38 L1208.41 730.23 L1209.46 728.03 L1210.51 715.58 L1211.55 715.42 L1212.60 727.55 L1214.00 722.00 L1218.00 722.00 L1218.90 727.17 L1219.66 718.75 L1220.41 727.77 L1221.17 717.92 L1221.92 728.42 L1222.68 717.63 L1223.43 728.50 L1224.19 718.19 L1224.94 727.60 L1225.70 717.18 L1226.45 726.90 L1227.21 717.67 L1227.96 727.06 L1228.72 718.73 L1229.47 726.82 L1230.23 717.42 L1230.98 727.92 L1231.74 718.88 L1232.49 728.78 L1233.25 717.10 L1234.00 727.63 L1234.76 718.03 L1235.51 726.90 L1236.27 718.60 L1237.02 727.69 L1237.78 719.06 L1238.53 727.73 L1239.29 718.07 L1240.04 727.39 L1240.80 717.80 L1241.56 728.06 L1242.31 718.23 L1243.07 728.07 L1243.82 718.96 L1244.58 727.40 L1245.33 718.08 L1246.09 728.60 L1246.84 717.77 L1247.60 727.97 L1248.35 718.16 L1249.11 727.61 L1249.86 718.82 L1250.62 726.81 L1251.37 718.01 L1252.13 727.89 L1252.88 718.29 L1253.64 726.74 L1254.39 717.71 L1255.15 727.71 L1255.90 718.68 L1256.66 728.45 L1257.41 717.66 L1258.17 726.78 L1258.92 718.71 L1259.68 727.74 L1260.43 717.23 L1261.19 726.95 L1261.94 718.42 L1262.70 727.11 L1262.70 722.53 L1263.35 715.40 L1264.00 722.98 L1264.66 714.82 L1265.31 723.04 L1265.96 715.17 L1266.61 722.81 L1267.26 714.95 L1267.92 723.03 L1268.57 715.36 L1269.22 722.63 L1269.87 715.18 L1270.53 722.27 L1271.18 715.46 L1271.83 722.99 L1272.48 715.33 L1273.13 722.35 L1273.79 715.30 L1274.44 722.38 L1275.09 715.11 L1275.74 722.63 L1276.39 715.81 L1277.05 722.36 L1277.70 715.72 L1278.35 722.61 L1279.00 715.64 L1279.65 722.29 L1280.31 715.52 L1280.96 722.18 L1281.61 715.76 L1282.26 721.88 L1282.92 715.84 L1283.57 722.25 L1284.22 715.57 L1284.87 722.38 L1285.52 716.06 L1286.18 722.36 L1286.83 715.66 L1287.48 722.27 L1288.13 715.99 L1288.78 721.78 L1289.44 716.10 L1290.09 721.75 L1290.74 715.79 L1291.39 722.21 L1292.05 716.30 L1292.70 721.96 L1293.35 716.31 L1294.00 721.90 L1294.65 716.02 L1295.31 721.90 L1295.96 716.03 L1296.61 721.46 L1297.26 716.37 L1297.91 721.75 L1298.57 716.34 L1299.22 721.68 L1299.87 716.16 L1300.52 721.34 L1301.17 716.51 L1301.83 721.26 L1302.48 716.48 L1303.13 721.40 L1303.78 716.42 L1304.44 721.66 L1305.09 716.83 L1305.74 721.18 L1306.39 716.56 L1307.04 721.12 L1307.70 716.86 L1308.35 721.37 L1309.00 716.80 L1309.00 732.94 L1310.05 723.56 L1311.09 712.33 L1312.14 719.50 L1313.19 731.14 L1314.23 727.73 L1315.28 715.15 L1316.33 715.98 L1317.37 729.11 L1318.42 730.57 L1319.47 717.82 L1320.51 713.82 L1321.56 724.86 L1322.61 731.88 L1323.65 722.12 L1324.70 712.07 L1325.75 720.84 L1326.79 731.91 L1327.84 726.02 L1328.89 713.96 L1329.93 717.00 L1330.98 729.66 L1332.03 729.18 L1333.07 717.14 L1334.12 713.62 L1335.17 726.27 L1336.21 731.39 L1337.26 720.75 L1338.31 713.16 L1339.36 722.24 L1340.40 731.40 L1341.45 724.93 L1342.50 713.63 L1343.54 718.39 L1344.59 730.93 L1345.64 728.23 L1346.68 715.94 L1347.73 714.47 L1348.78 727.34 L1349.82 731.16 L1350.87 719.08 L1351.92 712.58 L1352.96 723.62 L1354.01 731.98 L1355.06 723.47 L1356.10 713.18 L1357.15 719.27 L1358.20 730.93 L1359.24 727.80 L1360.29 714.72 L1361.34 716.16 L1362.38 728.78 L1363.43 730.03 L1364.48 717.77 L1365.52 713.84 L1366.57 725.28 L1367.62 732.22 L1368.66 721.99 L1369.71 713.20 L1370.76 720.88 L1371.80 731.41 L1372.85 726.35 L1373.90 714.47 L1374.94 716.99 L1375.99 729.91 L1377.04 729.34 L1378.08 716.44 L1379.13 714.28 L1380.18 726.58 L1381.22 731.84 L1382.27 720.59 L1383.32 713.00 L1384.36 722.37 L1385.41 731.63 L1386.46 724.87 L1387.50 713.62 L1388.55 718.15 L1389.60 730.20 L1390.64 728.60 L1391.69 715.75 L1392.74 714.96 L1393.79 727.59 L1394.83 730.58 L1395.88 719.24 L1396.93 713.49 L1397.97 723.73 L1399.02 732.55 L1400.07 723.28 L1401.11 713.12 L1402.16 719.42 L1403.21 731.80 L1404.25 727.63 L1405.30 714.19 L1406.35 716.35 L1407.39 728.69 L1408.44 729.84 L1409.49 717.67 L1410.53 713.30 L1411.58 725.17 L1412.63 731.93 L1413.67 721.83 L1414.72 712.48 L1415.77 721.09 L1416.81 732.41 L1417.86 725.93 L1418.91 713.70 L1419.95 717.38 L1421.00 729.48 L1424.50 766.00 L1425.00 766.23 L1425.79 764.97 L1426.58 766.20 L1427.37 764.15 L1428.16 766.48 L1428.95 763.65 L1429.74 766.37 L1430.53 763.19 L1431.32 766.21 L1432.11 762.43 L1432.89 766.23 L1433.68 762.41 L1434.47 766.32 L1435.26 762.12 L1436.05 765.87 L1436.84 761.50 L1437.63 766.19 L1438.42 760.64 L1439.21 765.58 L1440.00 759.99 L1440.00 766.50 L1440.79 760.63 L1441.58 765.40 L1442.37 759.78 L1443.17 766.44 L1443.96 760.52 L1444.75 765.62 L1445.54 759.26 L1446.33 766.14 L1447.12 759.27 L1447.91 765.32 L1448.70 759.34 L1449.50 765.12 L1450.29 760.07 L1451.08 766.37 L1451.87 759.91 L1452.66 765.89 L1453.45 759.92 L1454.24 765.21 L1455.03 759.11 L1455.83 766.36 L1456.62 760.08 L1457.41 765.83 L1458.20 759.99 L1458.99 765.39 L1459.78 759.61 L1460.57 765.15 L1461.37 759.35 L1462.16 765.76 L1462.95 758.33 L1463.74 765.34 L1464.53 758.87 L1465.32 765.64 L1466.11 759.63 L1466.90 766.28 L1467.70 759.28 L1468.49 766.43 L1469.28 759.10 L1470.07 765.11 L1470.86 758.26 L1471.65 765.54 L1472.44 759.42 L1473.23 765.37 L1474.03 758.60 L1474.82 766.05 L1475.61 757.65 L1476.40 765.86 L1476.40 752.00 L1477.00 761.88 L1477.75 749.90 L1478.50 762.09 L1479.25 749.77 L1480.00 761.30 L1480.75 750.83 L1481.50 762.23 L1482.25 749.98 L1483.00 761.68 L1483.75 750.38 L1484.50 760.85 L1485.25 750.20 L1486.00 762.11 L1486.75 751.25 L1487.50 762.42 L1488.25 750.62 L1489.00 762.04 L1489.75 751.11 L1490.50 761.61 L1491.25 751.01 L1492.00 762.36 L1492.75 750.82 L1493.50 761.51 L1494.25 750.41 L1495.00 761.18 L1495.75 751.15 L1496.50 762.47 L1497.25 750.07 L1498.00 761.99 L1498.75 749.91 L1499.50 762.58 L1500.25 750.06 L1501.00 762.31 L1501.75 750.89 L1502.50 761.81 L1503.25 749.72 L1504.00 762.06 L1504.75 750.43 L1505.50 761.98 L1506.25 749.83 L1507.00 762.56 L1507.75 749.52 L1508.50 760.74 L1509.25 750.99 L1510.00 762.53 L1510.75 750.92 L1511.50 760.76 L1512.25 750.62 L1513.00 762.48 L1513.75 750.47 L1514.50 761.84 L1515.25 749.88 L1516.00 761.62 L1516.75 749.52 L1517.50 760.88 L1518.25 750.78 L1519.00 761.46 L1519.75 751.35 L1520.50 761.41 L1521.25 750.00 L1522.00 762.21 L1522.00 765.11 L1523.05 757.31 L1524.10 746.96 L1525.15 753.33 L1526.19 764.54 L1527.24 760.87 L1528.29 748.82 L1529.34 749.76 L1530.39 762.90 L1531.44 763.57 L1532.49 751.73 L1533.53 747.41 L1534.58 759.15 L1535.63 765.24 L1536.68 755.73 L1537.73 746.67 L1538.78 755.17 L1539.83 765.18 L1540.87 759.60 L1541.92 748.28 L1542.97 751.19 L1544.02 763.34 L1545.07 762.41 L1546.12 750.48 L1547.17 748.50 L1548.21 760.83 L1549.26 765.33 L1550.31 753.87 L1551.36 746.60 L1552.41 756.82 L1553.46 765.63 L1554.50 757.86 L1555.55 747.79 L1556.60 752.91 L1557.65 764.01 L1558.70 761.74 L1559.75 749.72 L1560.80 749.77 L1561.84 762.47 L1562.89 763.77 L1563.94 752.74 L1564.99 747.75 L1566.04 758.39 L1567.09 765.91 L1568.14 756.27 L1569.18 746.68 L1570.23 754.47 L1571.28 765.63 L1572.33 760.06 L1573.38 748.65 L1574.43 750.84 L1575.48 763.30 L1576.52 763.19 L1577.57 751.13 L1578.62 748.45 L1579.67 760.20 L1580.72 765.69 L1581.77 754.46 L1582.82 747.69 L1583.86 756.26 L1584.91 765.50 L1585.96 758.52 L1587.01 747.88 L1588.06 752.64 L1589.11 763.76 L1590.16 761.88 L1591.20 749.75 L1592.25 748.79 L1593.30 761.93 L1594.35 765.05 L1595.40 752.69 L1596.45 746.83 L1597.50 757.97 L1598.54 766.10 L1599.59 756.79 L1600.64 747.00 L1601.69 753.99 L1602.74 764.75 L1603.79 760.66 L1604.83 748.09 L1605.88 750.56 L1606.93 763.05 L1607.98 763.41 L1609.03 751.58 L1610.08 747.58 L1611.13 759.34 L1612.17 764.92 L1613.22 755.10 L1614.27 747.23 L1615.32 755.74 L1616.37 765.73 L1617.42 758.99 L1618.47 747.76 L1619.51 752.00 L1620.56 764.02 L1621.61 762.54 L1622.66 750.22 L1623.71 749.45 L1624.76 760.86 L1625.81 765.35 L1626.85 753.47 L1627.90 747.93 L1628.95 757.44 L1630.00 765.28 L1632.00 735.00 L1635.00 707.60 L1635.00 710.90 L1635.70 704.83 L1636.41 710.75 L1637.11 704.79 L1637.82 710.44 L1638.52 704.53 L1639.22 710.42 L1639.93 704.41 L1640.63 710.48 L1641.34 704.89 L1642.04 710.92 L1642.74 704.71 L1643.45 710.93 L1644.15 704.74 L1644.86 710.13 L1645.56 704.85 L1646.26 710.28 L1646.97 705.06 L1647.67 710.88 L1648.38 705.30 L1649.08 710.27 L1649.78 704.40 L1650.49 710.17 L1651.19 704.69 L1651.90 710.83 L1652.60 705.26 L1652.60 705.77 L1653.30 700.92 L1653.99 706.43 L1654.69 701.31 L1655.38 706.76 L1656.08 701.21 L1656.78 706.74 L1657.47 701.41 L1658.17 706.81 L1658.86 701.98 L1659.56 707.33 L1660.26 702.78 L1660.95 707.49 L1661.65 703.31 L1662.34 707.60 L1663.04 703.68 L1663.74 707.91 L1664.43 704.10 L1665.13 707.95 L1665.82 703.92 L1666.52 708.32 L1667.22 704.45 L1667.91 708.58 L1668.61 705.07 L1669.30 708.81 L1670.00 705.08 L1670.00 716.24 L1670.70 705.03 L1671.39 714.99 L1672.09 705.07 L1672.79 716.66 L1673.48 704.91 L1674.18 716.43 L1674.88 704.88 L1675.58 714.98 L1676.27 704.13 L1676.97 714.65 L1677.67 705.26 L1678.36 715.78 L1679.06 704.46 L1679.76 715.32 L1680.45 705.69 L1681.15 714.98 L1681.85 704.50 L1682.54 715.84 L1683.24 704.58 L1683.94 714.39 L1684.63 704.80 L1685.33 714.70 L1686.03 705.06 L1686.72 714.38 L1687.42 705.29 L1688.12 715.14 L1688.82 706.15 L1689.51 714.41 L1690.21 705.93 L1690.91 713.89 L1691.60 706.39 L1692.30 714.98 L1693.00 705.55 L1693.69 714.65 L1694.39 705.87 L1695.09 713.50 L1695.78 706.37 L1696.48 714.58 L1697.18 705.58 L1697.88 713.38 L1698.57 706.34 L1699.27 713.85 L1699.97 706.14 L1700.66 714.04 L1701.36 706.70 L1702.06 713.63 L1702.75 706.80 L1703.45 713.24 L1704.15 705.89 L1704.84 713.48 L1705.54 706.15 L1706.24 712.70 L1706.93 706.67 L1707.63 713.58 L1708.33 706.27 L1709.02 713.10 L1709.72 706.68 L1710.42 712.76 L1711.12 706.68 L1711.81 712.88 L1712.51 706.37 L1713.21 712.54 L1713.90 706.78 L1714.60 712.98 L1714.60 716.87 L1715.65 709.64 L1716.69 701.17 L1717.74 706.09 L1718.78 716.33 L1719.83 712.86 L1720.87 702.39 L1721.92 702.84 L1722.96 713.66 L1724.01 715.70 L1725.05 704.97 L1726.10 700.29 L1727.14 710.74 L1728.19 716.24 L1729.24 708.53 L1730.28 700.05 L1731.33 706.83 L1732.37 716.86 L1733.42 712.18 L1734.46 701.40 L1735.51 703.73 L1736.55 714.41 L1737.60 715.31 L1738.64 703.81 L1739.69 700.76 L1740.73 711.67 L1741.78 716.42 L1742.82 707.45 L1743.87 700.05 L1744.92 707.96 L1745.96 716.95 L1747.01 711.08 L1748.05 701.02 L1749.10 704.54 L1750.14 714.82 L1751.19 714.15 L1752.23 703.41 L1753.28 701.27 L1754.32 712.51 L1755.37 716.19 L1756.41 706.58 L1757.46 700.82 L1758.51 708.99 L1759.55 716.42 L1760.60 710.02 L1761.64 700.24 L1762.69 705.43 L1763.73 715.80 L1764.78 713.55 L1765.82 702.71 L1766.87 702.78 L1767.91 713.07 L1768.96 715.68 L1770.00 705.60 L1771.05 700.40 L1772.09 710.04 L1773.14 717.50 L1774.19 709.09 L1775.23 699.93 L1776.28 706.35 L1777.32 715.79 L1778.37 712.41 L1779.41 701.78 L1780.46 702.74 L1781.50 714.09 L1782.55 715.66 L1783.59 704.62 L1784.64 700.58 L1785.68 710.87 L1786.73 716.77 L1787.78 708.03 L1788.82 700.68 L1789.87 707.44 L1790.91 716.02 L1791.96 711.51 L1793.00 701.60 L1794.05 703.84 L1795.09 714.65 L1796.14 714.60 L1797.18 703.94 L1798.23 701.38 L1799.27 712.21 L1800.32 716.73 L1801.36 707.12 L1802.41 700.09 L1803.46 708.41 L1804.50 716.98 L1805.55 710.55 L1806.59 700.51 L1807.64 704.66 L1808.68 715.38 L1809.73 713.63 L1810.77 703.20 L1811.82 702.04 L1812.86 713.19 L1813.91 716.34 L1814.95 705.86 L1816.00 700.93 L1819.00 764.00 L1820.50 764.00 L1822.00 707.00 L1822.00 713.14 L1822.60 705.47 L1823.20 712.30 L1823.80 704.56 L1824.40 712.22 L1825.00 704.39 L1825.61 713.85 L1826.21 704.59 L1826.81 713.88 L1827.41 705.14 L1828.01 713.12 L1828.61 704.80 L1829.21 712.43 L1829.81 704.17 L1830.41 712.78 L1831.01 703.54 L1831.61 711.57 L1832.21 704.98 L1832.82 711.41 L1833.42 703.65 L1834.02 712.39 L1834.62 705.40 L1835.22 713.14 L1835.82 703.75 L1836.42 713.59 L1837.02 703.87 L1837.62 711.99 L1838.22 703.74 L1838.82 711.86 L1839.42 704.61 L1840.03 712.59 L1840.63 705.04 L1841.23 712.54 L1841.83 705.23 L1842.43 712.42 L1843.03 704.37 L1843.63 712.05 L1844.23 704.18 L1844.83 712.13 L1845.43 705.50 L1846.03 711.96 L1846.63 704.31 L1847.24 711.97 L1847.84 706.07 L1848.44 712.81 L1849.04 704.23 L1849.64 712.63 L1850.24 705.97 L1850.84 713.65 L1851.44 703.52 L1852.04 712.75 L1852.64 705.22 L1853.24 711.97 L1853.84 704.45 L1854.45 711.40 L1855.05 704.10 L1855.65 712.01 L1856.25 703.74 L1856.85 713.93 L1857.45 703.85 L1858.05 713.84 L1858.65 704.82 L1859.25 712.54 L1859.85 703.98 L1860.45 711.53 L1861.05 704.46 L1861.66 713.61 L1862.26 703.97 L1862.86 712.06 L1863.46 705.92 L1864.06 713.57 L1864.66 703.58 L1865.26 711.96 L1865.86 704.14 L1866.46 711.42 L1867.06 704.81 L1867.66 712.33 L1868.26 704.40 L1868.87 711.90 L1869.47 704.71 L1870.07 713.15 L1870.67 705.87 L1871.27 713.72 L1871.87 705.43 L1872.47 713.83 L1873.07 705.19 L1873.67 712.95 L1874.27 705.77 L1874.87 713.84 L1875.47 704.98 L1876.08 712.92 L1876.68 705.91 L1877.28 711.52 L1877.88 705.15 L1878.48 713.41 L1879.08 704.16 L1879.68 713.31 L1880.28 704.64 L1880.88 713.39 L1881.48 704.03 L1882.08 712.01 L1882.68 705.19 L1883.29 713.22 L1883.89 706.11 L1884.49 713.43 L1885.09 704.99 L1885.69 713.59 L1886.29 705.77 L1886.89 711.72 L1887.49 704.20 L1888.09 712.03 L1888.69 705.66 L1889.29 713.26 L1889.89 704.37 L1890.50 712.73 L1891.10 705.84 L1891.70 713.58 L1892.30 705.29 L1892.90 712.43 L1893.50 704.69"/>
<path stroke="#f2cc0c" d="M48.50 776.18 L48.85 780.79 L49.20 776.18 L49.55 780.88 L49.90 776.24 L50.25 781.21 L50.60 776.63 L50.95 781.21 L51.30 776.10 L51.65 780.84 L52.00 776.73 L52.35 780.72 L52.70 778.31 L53.05 779.03 L53.40 778.42 L53.75 778.89 L54.10 778.38 L54.45 781.09 L54.80 776.69 L55.15 780.87 L55.50 776.15 L55.85 781.12 L56.20 776.18 L56.55 781.29 L56.90 778.49 L57.25 778.93 L57.60 776.73 L57.95 780.98 L58.30 776.60 L58.65 780.93 L59.00 776.68 L59.35 780.66 L59.70 776.11 L60.05 780.86 L60.40 776.18 L60.75 780.73 L61.10 776.43 L61.45 780.74 L61.80 776.47 L62.15 780.77 L62.50 778.42 L62.85 778.89 L63.20 778.70 L63.55 778.39 L63.90 776.43 L64.25 781.25 L64.60 776.52 L64.95 780.79 L65.30 776.12 L65.65 781.22 L66.00 776.27 L66.35 780.83 L66.70 776.63 L67.05 778.36 L67.40 778.33 L67.75 780.92 L68.10 776.39 L68.45 780.89 L68.80 776.74 L69.15 781.10 L69.50 776.33 L69.85 781.00 L70.20 776.39 L70.55 781.10 L70.90 776.11 L71.25 781.22 L71.60 778.62 L71.95 778.55 L72.30 778.64 L72.65 779.08 L73.00 776.50 L73.35 780.92 L73.70 776.66 L74.05 781.30 L74.40 776.75 L74.75 781.05 L75.10 776.15 L75.45 780.82 L75.80 776.35 L76.15 780.90 L76.50 778.46 L76.85 778.39 L77.20 776.24 L77.55 781.24 L77.90 776.72 L78.25 781.10 L78.60 776.54 L78.95 781.07 L79.30 776.39 L79.65 780.86 L80.00 776.12 L80.35 780.65 L80.70 776.26 L81.05 781.20 L81.40 776.42 L81.75 781.03 L82.10 776.10 L82.45 780.80 L82.80 778.89 L83.15 778.60 L83.50 778.87 L83.85 778.61 L84.20 776.35 L84.55 781.09 L84.90 776.54 L85.25 781.06 L85.60 776.40 L85.95 780.80 L86.30 776.35 L86.65 780.82 L87.00 776.16 L87.35 780.96 L87.70 776.28 L88.05 780.99 L88.40 778.48 L88.75 778.41 L89.10 779.04 L89.45 780.99 L89.80 776.41 L90.15 781.18 L90.50 776.59 L90.85 780.76 L91.20 776.22 L91.55 780.95 L91.90 776.33 L92.25 781.19 L92.60 776.17 L92.95 781.21 L93.30 776.72 L93.65 778.97 L94.00 778.95 L94.35 778.40 L94.70 776.59 L95.05 780.72 L95.40 776.52 L95.75 781.17 L96.10 776.41 L96.45 780.94 L96.80 776.69 L97.15 779.10 L97.50 778.86 L97.85 778.66 L98.20 776.23 L98.55 781.14 L98.90 776.65 L99.25 781.09 L99.60 776.51 L99.95 780.99 L100.30 776.60 L100.65 780.89 L101.00 776.53 L101.35 780.90 L101.70 776.74 L102.05 778.76 L102.40 778.35 L102.75 781.12 L103.10 776.57 L103.45 780.86 L103.80 776.59 L104.15 781.19 L104.50 776.69 L104.85 781.06 L105.20 778.46 L105.55 778.64 L105.90 778.93 L106.25 778.79 L106.60 776.72 L106.95 780.94 L107.30 776.51 L107.65 781.11 L108.00 776.56 L108.35 780.92 L108.70 776.33 L109.05 781.18 L109.40 776.52 L109.75 780.90 L110.10 779.04 L110.45 778.45 L110.80 779.08 L111.15 780.89 L111.50 776.32 L111.85 780.86 L112.20 776.70 L112.55 781.14 L112.90 776.50 L113.25 780.99 L113.60 776.43 L113.95 781.24 L114.30 776.26 L114.65 780.67 L115.00 776.36 L115.35 780.95 L115.70 776.45 L116.05 778.63 L116.40 778.68 L116.75 779.01 L117.10 778.65 L117.45 780.98 L117.80 776.21 L118.15 781.09 L118.50 776.27 L118.85 780.91 L119.20 776.72 L119.55 781.09 L119.90 776.39 L120.25 781.15 L120.60 776.25 L120.95 780.73 L121.30 778.36 L121.65 778.95 L122.00 776.69 L122.35 781.14 L122.70 776.38 L123.05 780.69 L123.40 776.31 L123.75 781.11 L124.10 778.34 L124.45 778.85 L124.80 778.63 L125.15 781.30 L125.50 776.22 L125.85 781.22 L126.20 776.66 L126.55 780.87 L126.90 776.41 L127.25 780.65 L127.60 776.11 L127.95 780.83 L128.30 776.58 L128.65 780.85 L129.00 776.58 L129.35 778.74 L129.70 778.71 L130.05 778.64 L130.40 778.34 L130.75 781.21 L131.10 776.23 L131.45 781.21 L131.80 776.58 L132.15 780.78 L132.50 776.72 L132.85 781.00 L133.20 776.51 L133.55 780.95 L133.90 778.77 L134.25 778.59 L134.60 778.94 L134.95 781.25 L135.30 776.39 L135.65 780.68 L136.00 776.55 L136.35 781.00 L136.70 776.48 L137.05 781.02 L137.40 778.52 L137.75 778.94 L138.10 778.53 L138.45 781.17 L138.80 776.37 L139.15 780.95 L139.50 776.14 L139.85 780.94 L140.20 776.18 L140.55 780.69 L140.90 776.47 L141.25 781.07 L141.60 776.72 L141.95 781.21 L142.30 776.70 L142.65 781.04 L143.00 776.63 L143.35 778.75 L143.70 778.94 L144.05 778.70 L144.40 778.84 L144.75 778.84 L145.00 776.11 L145.35 780.82 L145.70 776.06 L146.05 780.86 L146.40 776.61 L146.75 780.79 L147.10 776.15 L147.45 781.37 L147.80 776.40 L148.15 781.17 L148.50 776.50 L148.85 781.34 L149.20 776.21 L149.55 780.83 L149.90 776.64 L150.25 781.19 L150.60 776.65 L150.95 781.29 L151.30 776.48 L151.65 780.88 L152.00 776.28 L152.35 780.94 L152.70 776.30 L153.05 780.83 L153.40 776.06 L153.75 780.94 L154.10 776.11 L154.45 780.83 L154.80 776.14 L155.15 781.39 L155.50 776.41 L155.85 780.75 L156.20 776.42 L156.55 781.16 L156.90 776.52 L157.25 781.09 L157.60 776.61 L157.95 778.88 L158.30 778.64 L158.65 780.80 L159.00 776.12 L159.35 780.81 L159.70 776.05 L160.05 781.40 L160.40 776.04 L160.75 781.08 L161.10 776.48 L161.45 780.96 L161.80 776.17 L162.15 781.06 L162.50 776.05 L162.85 780.79 L163.20 776.35 L163.55 781.31 L163.90 776.27 L164.25 781.09 L164.60 776.62 L164.95 780.82 L165.30 776.49 L165.65 781.33 L166.00 776.10 L166.35 780.88 L166.70 776.05 L167.05 780.75 L167.40 776.27 L167.75 781.38 L168.10 776.44 L168.45 781.36 L168.80 776.23 L169.15 780.76 L169.50 776.45 L169.85 781.03 L170.20 776.51 L170.55 781.23 L170.90 776.55 L171.25 781.26 L171.60 776.47 L171.95 780.77 L172.30 776.30 L172.65 780.79 L173.00 776.30 L173.35 781.26 L173.70 776.27 L174.05 781.04 L174.40 776.65 L174.75 781.07 L175.10 776.61 L175.45 781.16 L175.80 776.59 L176.15 781.12 L176.50 776.44 L176.85 780.98 L177.20 776.23 L177.55 780.84 L177.90 776.56 L178.25 781.36 L178.60 776.45 L178.95 781.29 L179.30 776.09 L179.65 781.05 L180.00 776.57 L180.35 780.79 L180.70 776.08 L181.05 780.80 L181.40 776.34 L181.75 778.39 L182.10 778.67 L182.45 781.09 L182.80 776.33 L183.15 780.97 L183.50 776.54 L183.85 781.00 L184.20 776.54 L184.55 780.81 L184.90 776.51 L185.25 781.31 L185.60 776.34 L185.95 781.33 L186.30 776.66 L186.65 781.36 L187.00 776.35 L187.35 781.26 L187.70 776.29 L188.05 781.19 L188.40 776.52 L188.75 781.23 L189.10 776.57 L189.45 780.90 L189.80 776.65 L190.15 780.99 L190.50 776.33 L190.85 780.92 L191.20 776.07 L191.55 780.78 L191.90 776.28 L192.25 780.88 L192.60 776.27 L192.95 781.25 L193.30 776.20 L193.65 780.77 L194.00 776.51 L194.35 779.09 L194.70 778.33 L195.05 781.19 L195.40 776.13 L195.75 780.96 L196.10 776.13 L196.45 781.04 L196.80 776.05 L197.15 780.73 L197.50 776.04 L197.85 781.00 L198.20 776.40 L198.55 780.78 L198.90 776.51 L199.25 781.22 L199.60 776.22 L199.95 780.83 L200.30 776.44 L200.65 780.82 L201.00 776.54 L201.35 780.87 L201.70 776.45 L202.05 781.38 L202.40 776.00 L202.75 781.26 L203.10 776.35 L203.45 781.06 L203.80 776.15 L204.15 781.34 L204.50 776.17 L204.85 781.15 L205.20 776.54 L205.55 781.15 L205.90 776.10 L206.25 781.26 L206.60 776.61 L206.95 781.21 L207.30 776.44 L207.65 780.83 L208.00 776.02 L208.35 781.18 L208.70 776.17 L209.05 780.82 L209.40 776.12 L209.75 781.36 L210.10 776.06 L210.45 781.23 L210.80 776.11 L211.15 781.27 L211.50 776.28 L211.85 781.02 L212.20 776.12 L212.55 781.25 L212.90 776.09 L213.25 780.93 L213.60 776.03 L213.95 781.08 L214.30 776.04 L214.65 780.80 L215.00 776.02 L215.35 781.26 L215.70 776.50 L216.05 781.29 L216.40 776.52 L216.75 778.67 L217.10 778.49 L217.45 781.34 L217.80 776.21 L218.15 781.20 L218.50 776.41 L218.85 781.25 L219.20 776.14 L219.55 781.19 L219.90 776.04 L220.25 781.28 L220.60 776.40 L220.95 780.78 L221.30 776.23 L221.65 781.29 L222.00 776.45 L222.35 781.13 L222.70 776.11 L223.05 781.26 L223.40 776.67 L223.75 781.06 L224.10 776.66 L224.45 780.80 L224.80 776.13 L225.15 781.01 L225.50 776.27 L225.85 781.03 L228.00 781.00 L229.50 803.40 L230.00 801.31 L230.35 805.58 L230.70 800.90 L231.05 805.75 L231.40 801.26 L231.75 805.41 L232.10 801.27 L232.45 805.81 L232.80 801.16 L233.15 803.65 L233.50 803.10 L233.85 803.55 L234.20 803.03 L234.55 805.47 L234.90 801.27 L235.25 805.97 L235.60 801.21 L235.95 805.50 L236.30 800.87 L236.65 805.75 L237.00 800.87 L237.35 805.61 L237.70 801.13 L238.05 805.97 L238.40 801.12 L238.75 805.99 L239.10 801.33 L239.45 805.89 L239.80 803.42 L240.15 803.00 L240.50 800.84 L240.85 805.65 L241.20 800.92 L241.55 805.51 L241.90 801.22 L242.25 805.42 L242.60 801.09 L242.95 803.41 L243.30 803.30 L243.65 803.74 L244.00 803.72 L244.35 805.40 L244.70 801.04 L245.05 805.64 L245.40 800.83 L245.75 805.59 L246.10 801.02 L246.45 805.76 L246.80 801.21 L247.15 805.69 L247.50 801.01 L247.85 805.94 L248.20 801.13 L248.55 805.59 L248.90 803.05 L249.25 803.67 L249.60 803.55 L249.95 803.45 L250.30 803.36 L250.65 805.93 L251.00 800.98 L251.35 805.84 L251.70 801.43 L252.05 805.56 L252.40 801.36 L252.75 805.97 L253.10 800.87 L253.45 805.44 L253.80 801.07 L254.15 805.72 L254.50 801.42 L254.85 805.60 L255.20 800.96 L255.55 803.22 L255.90 803.61 L256.25 803.23 L256.60 803.44 L256.95 805.99 L257.30 801.03 L257.65 805.87 L258.00 801.01 L258.35 805.60 L258.70 800.82 L259.05 805.81 L259.40 801.00 L259.75 805.53 L260.10 801.34 L260.45 803.66 L260.80 803.63 L261.15 803.28 L261.50 801.11 L261.85 805.92 L262.20 801.34 L262.55 805.83 L262.90 801.34 L263.25 805.55 L263.60 801.42 L263.95 803.31 L264.30 803.77 L264.65 803.77 L265.00 801.25 L265.35 805.96 L265.70 801.32 L266.05 805.56 L266.40 801.17 L266.75 805.42 L267.10 801.28 L267.45 803.31 L267.80 803.77 L268.15 803.21 L268.50 800.86 L268.85 805.64 L269.20 800.91 L269.55 805.76 L269.90 800.94 L270.25 805.55 L270.60 801.35 L270.95 803.38 L271.30 803.45 L271.65 803.54 L272.00 803.60 L272.35 805.59 L272.70 800.85 L273.05 805.69 L273.40 801.26 L273.75 805.76 L274.10 801.28 L274.45 805.85 L274.80 801.42 L275.15 803.45 L275.50 803.28 L275.85 803.75 L276.20 803.21 L276.55 805.40 L276.90 801.09 L277.25 805.84 L277.60 801.01 L277.95 805.62 L278.30 800.92 L278.65 805.42 L279.00 801.25 L279.35 803.77 L279.70 803.51 L280.05 803.55 L280.40 803.62 L280.75 805.96 L281.10 800.97 L281.45 805.57 L281.80 801.19 L282.15 805.87 L282.50 801.22 L282.85 805.47 L283.20 800.88 L283.55 805.70 L283.90 801.11 L284.25 803.72 L284.60 803.11 L284.95 803.27 L285.30 803.05 L285.65 805.68 L286.00 800.90 L286.35 805.78 L286.70 801.07 L287.05 805.61 L287.40 801.08 L287.75 805.53 L288.10 800.90 L288.45 805.86 L288.80 800.91 L289.15 803.54 L289.50 803.60 L289.85 805.93 L290.20 800.87 L290.55 805.83 L290.90 800.92 L291.25 805.77 L291.60 800.88 L291.95 805.44 L292.30 800.99 L292.65 805.81 L293.00 801.05 L293.35 805.53 L293.70 803.48 L294.05 803.66 L294.40 801.31 L294.75 805.50 L295.10 801.39 L295.45 805.79 L295.80 800.82 L296.15 805.87 L296.50 801.22 L296.85 805.80 L297.20 803.67 L297.55 803.26 L297.90 801.04 L298.25 805.44 L298.60 801.27 L298.95 805.39 L299.30 801.16 L299.65 803.65 L300.00 803.03 L300.35 803.66 L300.70 801.30 L301.05 805.76 L301.40 801.23 L301.75 805.57 L302.10 801.08 L302.45 805.49 L302.80 803.17 L303.15 803.67 L303.50 803.65 L303.85 803.43 L304.20 800.94 L304.55 805.37 L304.90 801.12 L305.25 805.63 L305.60 801.41 L305.95 803.58 L306.30 803.47 L306.65 803.32 L307.00 803.41 L307.35 805.50 L307.70 800.89 L308.05 806.00 L308.40 800.93 L308.75 805.97 L309.10 801.24 L309.45 805.99 L309.80 801.40 L310.15 805.66 L310.50 801.36 L310.85 805.65 L311.20 801.01 L311.55 803.36 L311.90 803.27 L312.25 803.15 L312.60 803.32 L312.95 805.48 L313.30 800.97 L313.65 805.69 L314.00 801.16 L314.35 805.48 L314.70 800.99 L315.05 805.48 L315.40 801.28 L315.75 803.56 L316.10 803.78 L316.45 803.60 L316.80 800.85 L317.15 805.82 L317.50 800.98 L317.85 805.39 L318.20 801.32 L318.55 805.36 L318.90 800.89 L319.25 805.82 L319.60 801.04 L319.95 805.52 L320.30 801.22 L320.65 805.46 L321.00 801.04 L321.35 805.99 L321.70 801.25 L322.05 805.38 L322.40 801.34 L322.75 803.72 L323.10 803.64 L323.45 803.36 L323.80 801.38 L324.15 805.45 L324.50 800.94 L324.85 805.66 L325.20 800.81 L325.55 805.94 L325.90 803.38 L326.25 803.66 L326.60 803.10 L326.95 803.09 L327.30 801.12 L327.65 805.49 L328.00 801.29 L328.35 805.36 L328.70 800.86 L329.05 805.81 L329.40 800.84 L329.75 805.99 L330.10 801.17 L330.45 805.83 L330.80 801.20 L331.15 805.88 L331.50 803.11 L331.85 803.01 L332.20 803.17 L332.55 803.47 L332.90 801.44 L333.25 805.89 L333.60 800.94 L333.95 805.65 L334.30 801.42 L334.65 805.93 L335.00 801.10 L335.35 805.40 L335.70 801.24 L336.05 805.76 L336.40 803.39 L336.75 803.51 L337.10 803.16 L337.45 803.19 L337.80 801.20 L338.15 805.42 L338.50 801.07 L338.85 805.43 L339.20 801.32 L339.55 805.65 L339.90 801.07 L340.25 805.76 L340.60 800.99 L340.95 805.64 L341.30 801.41 L341.65 805.82 L342.00 801.42 L342.35 805.66 L342.70 801.19 L343.05 805.79 L343.40 803.19 L343.75 803.52 L344.10 803.55 L344.45 803.38 L344.80 800.86 L345.15 805.74 L345.50 801.41 L345.85 805.51 L346.20 800.81 L346.55 805.50 L346.90 801.20 L347.25 803.66 L347.60 803.51 L347.95 803.59 L348.30 803.03 L348.65 805.98 L349.00 800.93 L349.35 805.37 L349.70 801.42 L350.05 805.51 L350.40 800.85 L350.75 803.54 L351.10 803.74 L351.45 805.95 L351.80 801.28 L352.15 805.45 L352.50 801.44 L352.85 805.84 L353.20 801.38 L353.55 805.98 L353.90 800.99 L354.25 805.47 L354.60 800.93 L354.95 805.46 L355.30 801.12 L355.65 805.42 L356.00 803.71 L356.35 803.73 L356.70 803.00 L357.05 803.68 L357.40 800.92 L357.75 805.68 L358.10 801.05 L358.45 805.74 L358.80 800.93 L359.15 805.40 L359.50 801.41 L359.85 805.70 L360.20 801.26 L360.55 805.61 L360.90 801.45 L361.25 805.83 L361.60 803.66 L361.95 803.65 L362.30 801.37 L362.65 805.77 L363.00 801.32 L363.35 805.63 L363.70 801.38 L364.05 805.98 L364.40 801.10 L364.75 805.58 L365.10 801.39 L365.45 805.82 L365.80 800.90 L366.15 803.08 L366.50 803.29 L366.85 803.24 L367.20 803.61 L367.55 805.74 L367.90 800.81 L368.25 805.85 L368.60 801.45 L368.95 805.40 L369.30 801.38 L369.65 805.80 L370.00 803.42 L370.35 803.36 L370.70 803.33 L371.05 803.49 L371.40 800.85 L371.75 805.83 L372.10 800.93 L372.45 805.94 L372.80 800.91 L373.15 805.82 L373.50 801.43 L373.85 805.79 L374.20 800.90 L374.55 805.63 L374.90 800.88 L375.25 805.47 L375.60 800.84 L375.95 803.57 L376.30 803.20 L376.65 803.24 L377.00 801.24 L377.35 805.41 L377.70 801.16 L378.05 805.99 L378.40 801.02 L378.75 805.96 L379.10 800.95 L379.45 805.89 L379.80 800.80 L380.15 803.22 L380.50 803.20 L380.85 803.33 L381.20 803.02 L381.55 805.93 L381.90 800.85 L382.25 805.56 L382.60 800.95 L382.95 805.85 L383.30 800.87 L383.65 805.87 L384.00 801.10 L384.35 803.66 L384.70 803.25 L385.05 805.59 L385.40 801.10 L385.75 805.98 L386.10 801.35 L386.45 805.70 L386.80 801.03 L387.15 805.70 L387.50 800.84 L387.85 805.61 L388.20 800.86 L388.55 805.80 L388.90 800.82 L389.25 805.41 L389.60 803.23 L389.95 803.73 L390.30 801.28 L390.65 805.82 L391.00 800.81 L391.35 805.46 L391.70 801.17 L392.05 803.55 L392.40 803.60 L392.75 803.60 L393.10 803.20 L393.45 805.37 L393.80 801.00 L394.15 805.49 L394.50 801.28 L394.85 805.98 L395.20 801.03 L395.55 805.73 L395.90 801.02 L396.25 803.56 L396.60 803.24 L396.95 803.05 L397.30 803.05 L397.65 805.58 L398.00 801.36 L398.35 805.42 L398.70 801.13 L399.05 805.98 L399.40 803.22 L399.75 803.62 L400.00 801.31 L400.35 805.63 L400.70 801.10 L401.05 805.89 L401.40 801.07 L401.75 805.92 L402.10 801.31 L402.45 806.05 L402.80 801.14 L403.15 805.99 L403.50 801.35 L403.85 805.98 L404.20 801.22 L404.55 806.00 L404.90 800.83 L405.25 805.88 L405.60 801.19 L405.95 805.43 L406.30 801.25 L406.65 806.04 L407.00 801.27 L407.35 805.87 L407.70 800.98 L408.05 805.87 L408.40 801.25 L408.75 805.52 L409.10 801.31 L409.45 806.09 L409.80 801.12 L410.15 805.87 L410.50 800.99 L410.85 805.58 L411.20 801.33 L411.55 805.44 L411.90 800.80 L412.25 803.77 L412.60 803.29 L412.95 805.52 L413.30 800.84 L413.65 805.59 L414.00 801.13 L414.35 805.78 L414.70 801.30 L415.05 805.59 L415.40 800.84 L415.75 805.62 L416.10 801.12 L416.45 805.94 L416.80 801.22 L417.15 805.56 L417.50 801.23 L417.85 805.68 L418.20 801.13 L418.55 805.86 L418.90 801.06 L419.25 806.01 L419.60 801.34 L419.95 805.87 L420.30 800.81 L420.65 805.58 L421.00 801.36 L421.35 805.72 L421.70 801.30 L422.05 805.74 L422.40 800.89 L422.75 805.49 L423.10 801.30 L423.45 805.75 L423.80 801.26 L424.15 805.58 L424.50 801.08 L424.85 805.50 L425.20 801.33 L425.55 805.67 L425.90 801.06 L426.25 806.06 L426.60 801.00 L426.95 805.47 L427.30 801.22 L427.65 805.93 L428.00 801.00 L428.35 806.01 L428.70 800.73 L429.05 806.00 L429.40 801.30 L429.75 806.06 L430.10 801.02 L430.45 805.59 L430.80 801.26 L431.15 806.01 L431.50 801.23 L431.85 805.48 L432.20 801.20 L432.55 806.05 L432.90 801.06 L433.25 805.92 L433.60 801.32 L433.95 805.73 L434.30 801.16 L434.65 805.56 L435.00 800.93 L435.35 805.67 L435.70 801.29 L436.05 806.09 L436.40 801.05 L436.75 805.55 L437.10 803.52 L437.45 805.44 L437.80 801.06 L438.15 805.92 L438.50 801.01 L438.85 805.58 L439.20 801.04 L439.55 805.83 L439.90 800.94 L440.25 805.52 L440.60 800.83 L440.95 806.06 L441.30 800.88 L441.65 806.00 L442.00 801.13 L442.35 806.03 L442.70 801.25 L443.05 805.58 L443.40 800.97 L443.75 806.03 L444.10 801.32 L444.45 805.57 L444.80 801.35 L445.15 805.72 L445.50 801.28 L445.85 805.55 L446.20 800.87 L446.55 805.82 L446.90 800.74 L447.25 805.70 L447.60 800.92 L447.95 805.43 L448.30 800.73 L448.65 805.58 L449.00 801.05 L449.35 805.77 L449.70 800.73 L450.05 805.76 L450.40 800.71 L450.75 805.84 L451.10 801.23 L451.45 805.99 L451.80 801.24 L452.15 806.10 L452.50 801.07 L452.85 805.58 L453.20 800.73 L453.55 805.64 L453.90 801.10 L454.25 805.66 L454.60 800.92 L454.95 805.44 L455.30 801.12 L455.65 805.53 L456.00 800.82 L456.35 805.43 L456.70 800.96 L457.05 803.36 L457.40 803.45 L457.75 805.52 L458.10 801.21 L458.45 805.51 L458.80 800.73 L459.15 805.53 L459.50 801.28 L459.85 805.78 L460.20 800.98 L460.55 806.02 L460.90 801.34 L461.25 805.58 L461.60 801.26 L461.95 805.82 L462.30 801.07 L462.65 805.70 L463.00 800.78 L463.35 805.87 L463.70 800.79 L464.05 806.07 L464.40 801.19 L464.75 806.06 L465.10 801.10 L465.45 805.46 L465.80 800.76 L466.15 805.50 L466.50 801.36 L466.85 805.62 L467.20 801.18 L467.55 806.08 L467.90 800.79 L468.25 805.71 L468.60 801.02 L468.95 806.00 L469.30 800.83 L469.65 805.87 L470.00 801.03 L470.35 805.50 L470.70 801.21 L471.05 805.87 L471.40 800.98 L471.75 805.97 L472.10 800.77 L472.45 806.07 L472.80 801.24 L473.15 805.48 L473.50 800.77 L473.85 805.81 L474.20 801.25 L474.55 805.89 L474.90 801.20 L475.25 805.58 L475.60 801.13 L475.95 805.78 L476.30 800.92 L476.65 805.47 L477.00 800.87 L477.35 805.85 L477.70 801.06 L478.05 805.88 L478.40 800.84 L478.75 805.43 L479.10 801.05 L479.45 805.88 L479.80 800.90 L480.15 805.86 L480.50 801.25 L480.85 806.07 L481.20 800.84 L481.55 803.34 L481.90 803.77 L482.25 805.70 L482.60 800.73 L482.95 806.03 L483.30 801.22 L483.65 805.92 L484.00 801.13 L484.35 805.87 L484.70 800.86 L485.05 805.51 L485.40 801.22 L485.75 805.57 L486.10 801.20 L486.45 805.45 L486.80 801.28 L487.15 805.70 L487.50 801.09 L487.85 805.48 L488.20 800.98 L488.55 806.06 L488.90 800.99 L489.25 805.67 L489.60 800.90 L489.95 805.72 L490.30 801.26 L490.65 805.75 L491.00 801.36 L491.35 805.88 L491.70 801.27 L492.05 805.67 L492.40 800.73 L492.75 805.94 L493.10 800.81 L493.45 805.86 L493.80 800.95 L494.15 805.90 L494.50 800.72 L494.85 803.61 L495.20 803.24 L495.55 805.98 L495.90 800.97 L496.25 806.00 L496.60 800.78 L496.95 805.82 L497.30 801.24 L497.65 805.44 L499.50 801.00 L501.00 797.00 L503.00 828.00 L504.00 842.44 L504.75 829.71 L505.51 843.06 L506.26 828.16 L507.01 843.69 L507.77 828.41 L508.52 842.06 L509.27 828.01 L510.03 843.16 L510.78 828.62 L511.53 842.03 L512.29 830.32 L513.04 843.65 L513.79 828.27 L514.55 841.50 L515.30 830.28 L517.00 844.00 L519.50 810.00 L520.00 811.77 L520.71 798.04 L521.42 810.94 L522.13 798.01 L522.84 811.17 L523.56 798.36 L524.27 811.53 L524.98 797.42 L525.69 811.91 L526.40 797.66 L528.00 800.00 L530.50 735.00 L531.20 735.48 L531.99 721.47 L532.77 734.06 L533.56 720.62 L534.34 733.84 L535.13 721.72 L535.91 734.90 L536.70 721.16 L538.40 740.00 L540.00 760.00 L541.50 704.00 L542.00 703.15 L542.76 690.00 L543.52 702.27 L544.28 687.92 L545.04 703.24 L545.80 689.44 L546.56 702.69 L547.32 689.50 L548.08 703.06 L548.84 689.69 L549.60 701.70 L552.00 700.00 L554.00 777.00 L554.20 791.46 L554.94 776.47 L555.68 791.22 L556.42 776.77 L557.16 789.69 L557.90 776.98 L558.64 791.12 L559.38 775.23 L560.12 790.04 L560.86 776.42 L561.60 791.35 L563.50 790.00 L567.50 758.00 L568.30 759.37 L569.03 746.29 L569.76 759.56 L570.49 746.41 L571.21 759.27 L571.94 745.57 L572.67 758.86 L573.40 746.18 L575.00 756.00 L577.20 829.00 L577.40 841.99 L578.14 828.07 L578.88 841.99 L579.62 828.52 L580.36 843.02 L581.10 829.51 L581.84 842.07 L582.58 829.45 L583.32 841.58 L584.06 828.48 L584.80 842.97 L585.54 829.56 L586.28 843.09 L587.02 828.37 L587.76 843.17 L588.50 829.82 L589.24 841.75 L589.98 829.69 L590.72 841.44 L591.46 829.87 L592.20 842.97 L594.00 843.00 L596.50 812.00 L596.90 811.30 L597.67 798.89 L598.44 811.88 L599.21 798.64 L599.98 811.80 L600.75 797.41 L601.52 810.87 L602.29 797.63 L603.06 809.95 L603.84 799.23 L604.61 810.98 L605.38 797.74 L606.15 811.74 L606.92 798.42 L607.69 810.85 L608.46 798.10 L609.23 810.42 L610.00 798.47 L612.00 810.00 L615.50 735.00 L616.40 733.27 L617.15 719.65 L617.90 734.94 L618.65 720.31 L619.40 733.96 L620.15 719.99 L620.90 733.53 L621.65 719.92 L622.40 734.35 L623.15 720.52 L623.90 733.42 L624.65 721.21 L625.40 734.22 L626.15 720.45 L626.90 732.92 L627.65 721.60 L628.40 733.64 L630.00 730.00 L631.50 765.00 L633.50 704.00 L634.00 703.35 L634.75 688.88 L635.50 702.09 L636.25 688.46 L637.00 703.51 L637.75 690.13 L638.50 701.44 L639.25 688.11 L640.00 702.50 L640.75 689.27 L641.50 702.89 L642.25 687.96 L643.00 701.82 L643.75 689.63 L644.50 702.56 L645.25 688.00 L646.00 702.67 L648.00 704.00 L650.50 776.00 L650.70 791.43 L651.43 777.82 L652.16 791.55 L652.89 775.84 L653.63 789.46 L654.36 775.39 L655.09 791.39 L655.82 775.21 L656.55 791.22 L657.28 776.55 L658.02 789.27 L658.75 775.49 L659.48 791.19 L660.21 777.24 L660.94 790.46 L661.67 775.99 L662.41 791.34 L663.14 775.71 L663.87 788.86 L664.60 775.34 L664.60 783.63 L665.86 773.23 L667.13 781.98 L668.39 773.65 L669.65 783.07 L670.92 773.79 L672.18 782.73 L673.45 772.05 L674.71 783.09 L675.97 773.16 L677.24 782.39 L678.50 771.64 L680.00 784.00 L682.50 761.00 L683.00 760.54 L683.76 747.56 L684.53 760.75 L685.29 747.22 L686.06 760.20 L686.82 745.88 L687.59 760.40 L688.35 746.41 L689.12 758.67 L689.88 745.65 L690.65 758.99 L691.41 746.06 L692.18 760.59 L692.94 747.05 L693.71 760.20 L694.47 745.74 L695.24 760.01 L696.00 747.24 L697.50 751.00 L699.50 751.00 L701.50 843.70 L702.00 844.72 L703.08 841.43 L704.15 845.31 L705.23 839.85 L706.31 844.66 L707.38 838.34 L708.46 843.97 L709.54 835.61 L710.62 843.96 L711.69 834.83 L712.77 845.17 L713.85 831.95 L714.92 844.89 L716.00 830.05 L716.00 845.04 L717.22 829.20 L718.44 845.45 L719.66 831.12 L720.88 844.99 L722.09 830.28 L723.31 843.76 L724.53 830.45 L725.75 845.47 L726.97 830.76 L728.19 843.99 L729.41 830.82 L730.62 844.21 L731.84 830.05 L733.06 843.99 L734.28 828.53 L735.50 844.43 L736.72 828.73 L737.94 843.93 L739.16 827.89 L740.38 844.79 L741.59 828.32 L742.81 844.00 L744.03 828.20 L745.25 843.94 L746.47 829.51 L747.69 843.84 L748.91 827.30 L750.12 843.68 L751.34 828.94 L752.56 844.46 L753.78 828.53 L755.00 846.36 L756.40 840.91 L757.19 830.17 L757.99 841.68 L758.78 829.83 L759.58 840.94 L760.37 830.80 L761.17 840.69 L761.96 829.77 L762.76 841.64 L763.55 829.93 L764.35 842.01 L765.14 830.17 L765.94 842.05 L766.73 831.13 L767.52 841.58 L768.32 829.88 L769.11 841.78 L769.91 831.18 L770.70 841.45 L771.50 830.77 L772.29 840.99 L773.09 831.45 L773.88 839.95 L774.68 830.68 L775.47 840.43 L776.26 831.75 L777.06 840.62 L777.85 831.83 L778.65 840.10 L779.44 830.95 L780.24 839.80 L781.03 831.46 L781.83 840.93 L782.62 831.57 L783.42 839.72 L784.21 831.54 L785.01 840.17 L785.80 831.47 L786.59 839.49 L787.39 831.93 L788.18 840.40 L788.98 831.57 L789.77 840.08 L790.57 832.50 L791.36 839.53 L792.16 831.42 L792.95 839.15 L793.75 831.40 L794.54 839.51 L795.34 832.02 L796.13 839.26 L796.92 832.10 L797.72 839.98 L798.51 832.31 L799.31 838.98 L800.10 832.72 L800.90 839.47 L801.69 832.12 L802.49 838.92 L803.28 832.89 L804.08 839.45 L804.87 833.06 L805.66 838.48 L806.46 832.63 L807.25 839.08 L808.05 833.02 L808.84 838.41 L809.64 832.56 L810.43 838.99 L811.23 832.79 L812.02 838.46 L812.82 832.73 L813.61 838.57 L814.41 833.13 L815.20 838.37 L816.00 838.00 L817.70 846.25 L818.75 837.58 L819.81 825.43 L820.86 833.32 L821.91 846.48 L822.96 841.22 L824.02 827.33 L825.07 829.64 L826.12 843.95 L827.17 845.15 L828.23 831.03 L829.28 826.49 L830.33 839.94 L831.39 845.73 L832.44 834.81 L833.49 825.39 L834.54 835.96 L835.60 847.51 L836.65 838.99 L837.70 825.98 L838.75 831.90 L839.81 844.82 L840.86 842.88 L841.91 828.47 L842.97 828.72 L844.02 842.58 L845.07 845.14 L846.12 832.39 L847.18 826.69 L848.23 838.67 L849.28 846.74 L850.33 836.33 L851.39 826.92 L852.44 834.54 L853.49 846.77 L854.54 840.58 L855.60 827.67 L856.65 830.87 L857.70 844.47 L858.76 843.49 L859.81 829.84 L860.86 827.14 L861.91 840.96 L862.97 846.28 L864.02 833.56 L865.07 825.78 L866.12 837.20 L867.18 847.21 L868.23 837.77 L869.28 825.77 L870.34 832.80 L871.39 845.20 L872.44 842.15 L873.49 828.16 L874.55 829.92 L875.60 842.92 L876.65 845.26 L877.70 831.04 L878.76 827.54 L879.81 839.78 L880.86 846.82 L881.92 835.03 L882.97 826.32 L884.02 835.63 L885.07 846.27 L886.13 839.16 L887.18 827.31 L888.23 831.72 L889.28 845.32 L890.34 842.79 L891.39 829.47 L892.44 828.78 L893.50 841.83 L894.55 845.19 L895.60 832.66 L896.65 826.45 L897.71 838.25 L898.76 846.79 L899.81 836.64 L900.86 825.33 L901.92 834.18 L902.97 847.04 L904.02 840.70 L905.08 827.88 L906.13 830.28 L907.18 843.79 L908.23 843.69 L909.29 830.64 L910.34 827.25 L911.39 841.24 L912.44 846.10 L913.50 834.03 L914.55 826.27 L915.60 836.84 L916.66 847.16 L917.71 838.12 L918.76 826.97 L919.81 832.51 L920.87 845.85 L921.92 841.60 L922.97 827.82 L924.02 828.94 L925.08 843.00 L926.13 845.22 L927.18 831.13 L928.23 827.01 L929.29 839.46 L930.34 846.32 L931.39 835.45 L932.45 825.77 L933.50 835.30 L934.55 847.37 L935.60 839.43 L936.66 827.11 L937.71 831.07 L938.76 845.37 L939.81 843.35 L940.87 829.10 L941.92 828.42 L942.97 842.33 L944.03 845.87 L945.08 832.90 L946.13 826.89 L947.18 837.93 L948.24 847.51 L949.29 837.00 L950.34 826.95 L951.39 833.93 L952.45 846.18 L953.50 841.01 L954.50 765.00 L956.30 812.70 L956.30 811.88 L957.28 813.71 L958.26 812.82 L959.24 813.25 L960.21 811.45 L961.19 811.97 L962.17 811.30 L963.15 813.04 L964.13 811.06 L965.11 812.66 L966.09 810.45 L967.06 811.89 L968.04 810.05 L969.02 811.60 L970.00 810.13 L970.00 813.87 L971.15 810.32 L972.29 813.69 L973.44 810.55 L974.58 814.05 L975.73 810.52 L976.87 814.51 L978.02 810.53 L979.16 814.17 L980.31 809.79 L981.45 813.85 L982.60 810.46 L982.60 814.90 L983.92 809.91 L985.23 814.48 L986.55 810.14 L987.87 814.67 L989.18 810.05 L990.50 815.16 L991.82 808.89 L993.13 815.08 L994.45 808.52 L995.77 814.47 L997.08 808.83 L998.40 815.08 L999.72 808.01 L1001.03 815.00 L1002.35 808.20 L1003.67 814.41 L1004.98 808.33 L1006.30 814.76 L1007.62 808.06 L1008.93 814.64 L1010.25 807.01 L1011.57 814.86 L1012.88 806.48 L1014.20 813.86 L1015.52 807.23 L1016.83 814.19 L1018.15 805.75 L1019.47 814.93 L1020.78 805.40 L1022.10 814.66 L1023.42 805.98 L1024.73 815.11 L1026.05 805.35 L1027.37 814.09 L1028.68 804.22 L1030.00 814.46 L1030.00 810.29 L1030.69 806.87 L1031.38 810.51 L1032.08 807.07 L1032.77 810.41 L1033.46 806.72 L1034.15 810.54 L1034.85 807.11 L1035.54 810.25 L1036.23 807.09 L1036.92 810.44 L1037.62 806.59 L1038.31 810.69 L1039.00 806.75 L1039.00 810.07 L1039.75 797.71 L1040.50 809.84 L1041.25 799.33 L1042.00 810.43 L1042.75 797.71 L1043.50 809.85 L1044.25 798.56 L1045.00 810.11 L1045.75 798.88 L1046.50 809.99 L1047.25 798.55 L1048.00 809.51 L1048.75 799.68 L1049.50 809.58 L1050.25 798.97 L1051.00 810.85 L1051.75 798.48 L1052.50 810.94 L1053.25 799.57 L1054.00 809.86 L1054.75 799.33 L1055.50 809.80 L1056.25 799.75 L1057.00 810.08 L1057.75 798.36 L1058.50 809.93 L1059.25 798.24 L1060.00 810.24 L1060.75 798.03 L1061.50 809.72 L1061.50 808.57 L1062.15 800.44 L1062.80 808.19 L1063.45 800.27 L1064.11 808.18 L1064.76 800.87 L1065.41 808.87 L1066.06 800.87 L1066.71 808.50 L1067.36 801.00 L1068.02 808.48 L1068.67 800.58 L1069.32 808.18 L1069.97 800.28 L1070.62 808.32 L1071.27 800.29 L1071.92 808.76 L1072.58 800.30 L1073.23 808.23 L1073.88 800.59 L1074.53 808.36 L1075.18 800.43 L1075.83 808.36 L1076.48 800.77 L1077.14 808.91 L1077.79 800.63 L1078.44 808.36 L1079.09 800.39 L1079.74 808.42 L1080.39 800.44 L1081.05 808.67 L1081.70 801.01 L1082.35 808.17 L1083.00 801.08 L1083.00 814.31 L1084.05 805.81 L1085.11 795.00 L1086.16 801.91 L1087.21 813.61 L1088.27 809.69 L1089.32 797.06 L1090.38 798.25 L1091.43 811.51 L1092.48 811.87 L1093.54 799.44 L1094.59 796.83 L1095.64 808.46 L1096.70 813.39 L1097.75 803.04 L1098.80 795.24 L1099.86 804.62 L1100.91 813.78 L1101.97 807.01 L1103.02 795.95 L1104.07 801.09 L1105.13 813.58 L1106.18 810.00 L1107.23 797.68 L1108.29 798.32 L1109.34 810.98 L1110.40 813.52 L1111.45 800.98 L1112.50 795.92 L1113.56 807.23 L1114.61 814.65 L1115.66 804.32 L1116.72 795.53 L1117.77 803.36 L1118.82 813.66 L1119.88 807.90 L1120.93 795.77 L1121.99 800.20 L1123.04 812.12 L1124.09 811.33 L1125.15 798.65 L1126.20 797.53 L1127.25 810.02 L1128.31 813.52 L1129.36 801.61 L1130.41 795.91 L1131.47 806.18 L1132.52 813.99 L1133.58 805.55 L1134.63 795.24 L1135.68 802.12 L1136.74 814.18 L1137.79 809.26 L1138.84 796.73 L1139.90 798.59 L1140.95 811.68 L1142.00 811.67 L1143.06 799.04 L1144.11 796.06 L1145.17 808.74 L1146.22 814.34 L1147.27 802.97 L1148.33 795.39 L1149.38 804.93 L1150.43 815.10 L1151.49 806.80 L1152.54 796.18 L1153.60 801.09 L1154.65 813.37 L1155.70 810.09 L1156.76 797.86 L1157.81 798.45 L1158.86 810.86 L1159.92 812.84 L1160.97 800.57 L1162.02 796.16 L1163.08 807.55 L1164.13 814.66 L1165.19 804.03 L1166.24 795.80 L1167.29 803.68 L1168.35 814.00 L1169.40 808.03 L1170.45 795.40 L1171.51 800.42 L1172.56 812.79 L1173.61 811.58 L1174.67 798.39 L1175.72 797.22 L1176.78 809.78 L1177.83 812.77 L1178.88 801.64 L1179.94 796.16 L1180.99 806.33 L1182.04 814.61 L1183.10 805.22 L1184.15 794.68 L1185.20 802.53 L1186.26 813.68 L1187.31 809.19 L1188.37 796.44 L1189.42 799.12 L1190.47 812.37 L1191.53 812.14 L1192.58 799.29 L1193.63 796.48 L1194.69 808.77 L1195.74 814.57 L1196.80 802.69 L1197.85 794.64 L1198.90 805.19 L1199.96 813.65 L1201.01 806.40 L1202.06 796.04 L1203.12 801.47 L1204.17 812.90 L1205.22 810.21 L1206.28 797.07 L1207.33 798.07 L1208.39 811.54 L1209.44 813.31 L1210.49 800.01 L1211.55 795.78 L1212.60 807.57 L1214.50 730.00 L1216.50 721.30 L1218.00 723.74 L1219.07 718.04 L1220.13 722.58 L1221.20 717.89 L1222.27 723.08 L1223.33 717.51 L1224.40 723.28 L1225.47 718.64 L1226.53 723.06 L1227.60 718.54 L1227.60 724.48 L1228.60 717.30 L1229.61 724.23 L1230.61 718.25 L1231.61 724.35 L1232.61 718.40 L1233.62 724.10 L1234.62 718.32 L1235.62 723.73 L1236.63 717.49 L1237.63 723.05 L1238.63 717.61 L1239.63 723.45 L1240.64 717.10 L1241.64 723.25 L1242.64 718.47 L1243.65 724.33 L1244.65 718.12 L1245.65 724.09 L1246.65 717.22 L1247.66 723.95 L1248.66 717.99 L1249.66 723.07 L1250.67 718.49 L1251.67 723.01 L1252.67 717.93 L1253.67 723.52 L1254.68 717.24 L1255.68 723.41 L1256.68 717.83 L1257.69 723.96 L1258.69 718.35 L1259.69 724.12 L1260.69 717.21 L1261.70 724.26 L1262.70 717.22 L1262.70 732.70 L1263.40 722.80 L1264.10 733.50 L1264.80 722.24 L1265.51 732.72 L1266.21 722.35 L1266.91 733.03 L1267.61 722.32 L1268.31 733.77 L1269.01 721.41 L1269.72 733.01 L1270.42 721.74 L1271.12 732.38 L1271.82 721.75 L1272.52 732.26 L1273.22 721.75 L1273.92 733.63 L1274.63 722.20 L1275.33 733.07 L1276.03 721.93 L1276.73 732.37 L1277.43 721.72 L1278.13 732.54 L1278.83 722.87 L1279.54 732.95 L1280.24 722.24 L1280.94 732.07 L1281.64 722.43 L1282.34 733.46 L1283.04 721.43 L1283.75 733.65 L1284.45 721.92 L1285.15 733.63 L1285.85 722.52 L1286.55 733.01 L1287.25 721.88 L1287.95 732.84 L1288.66 723.06 L1289.36 733.34 L1290.06 721.59 L1290.76 733.23 L1291.46 721.91 L1292.16 732.09 L1292.87 722.62 L1293.57 733.00 L1294.27 721.61 L1294.97 733.71 L1295.67 721.53 L1296.37 732.21 L1297.07 722.52 L1297.78 733.51 L1298.48 722.47 L1299.18 733.69 L1299.88 722.25 L1300.58 733.17 L1301.28 721.49 L1301.98 732.41 L1302.69 722.64 L1303.39 732.84 L1304.09 721.62 L1304.79 732.54 L1305.49 722.11 L1306.19 732.56 L1306.90 721.47 L1307.60 732.11 L1308.30 721.31 L1309.00 733.38 L1309.00 736.51 L1310.05 727.56 L1311.09 717.23 L1312.14 723.12 L1313.19 736.46 L1314.23 731.65 L1315.28 718.74 L1316.33 719.26 L1317.37 732.73 L1318.42 734.83 L1319.47 721.68 L1320.51 717.12 L1321.56 728.96 L1322.61 735.86 L1323.65 726.08 L1324.70 715.54 L1325.75 724.58 L1326.79 735.63 L1327.84 730.43 L1328.89 717.62 L1329.93 720.92 L1330.98 734.33 L1332.03 734.03 L1333.07 720.22 L1334.12 717.96 L1335.17 730.84 L1336.21 736.72 L1337.26 724.58 L1338.31 716.95 L1339.36 726.22 L1340.40 735.97 L1341.45 729.06 L1342.50 716.66 L1343.54 721.88 L1344.59 735.70 L1345.64 732.45 L1346.68 719.11 L1347.73 718.13 L1348.78 731.56 L1349.82 735.40 L1350.87 723.34 L1351.92 716.46 L1352.96 727.79 L1354.01 736.42 L1355.06 727.51 L1356.10 716.75 L1357.15 723.24 L1358.20 735.44 L1359.24 732.07 L1360.29 718.44 L1361.34 720.11 L1362.38 732.69 L1363.43 735.20 L1364.48 721.42 L1365.52 716.85 L1366.57 729.08 L1367.62 737.15 L1368.66 725.93 L1369.71 716.97 L1370.76 724.86 L1371.80 736.57 L1372.85 730.00 L1373.90 718.20 L1374.94 720.88 L1375.99 734.68 L1377.04 734.54 L1378.08 720.59 L1379.13 717.15 L1380.18 730.87 L1381.22 736.75 L1382.27 724.41 L1383.32 715.60 L1384.36 726.35 L1385.41 737.33 L1386.46 728.88 L1387.50 717.39 L1388.55 722.04 L1389.60 735.09 L1390.64 732.66 L1391.69 719.41 L1392.74 718.59 L1393.79 732.09 L1394.83 735.19 L1395.88 723.10 L1396.93 716.62 L1397.97 727.87 L1399.02 736.54 L1400.07 727.37 L1401.11 717.02 L1402.16 723.46 L1403.21 735.49 L1404.25 731.78 L1405.30 718.00 L1406.35 719.34 L1407.39 733.25 L1408.44 734.48 L1409.49 721.25 L1410.53 717.09 L1411.58 729.31 L1412.63 736.18 L1413.67 725.83 L1414.72 715.99 L1415.77 724.88 L1416.81 736.30 L1417.86 730.32 L1418.91 717.89 L1419.95 720.89 L1421.00 734.11 L1422.00 734.00 L1424.50 765.50 L1425.50 693.80 L1427.60 693.80 L1427.60 697.34 L1428.31 693.51 L1429.02 697.24 L1429.73 692.51 L1430.44 697.95 L1431.16 690.67 L1431.87 697.46 L1432.58 689.90 L1433.29 697.76 L1434.00 688.60 L1434.00 698.20 L1434.70 687.51 L1435.39 699.39 L1436.09 687.68 L1436.78 699.44 L1437.48 688.80 L1438.17 698.52 L1438.87 688.26 L1439.56 697.69 L1440.26 688.51 L1440.95 699.07 L1441.65 687.63 L1442.34 699.30 L1443.04 688.49 L1443.73 698.12 L1444.43 687.91 L1445.12 698.81 L1445.82 687.51 L1446.51 698.59 L1447.21 688.34 L1447.90 697.82 L1448.60 688.59 L1449.29 697.87 L1449.99 687.82 L1450.68 698.71 L1451.38 687.59 L1452.07 697.67 L1452.77 687.34 L1453.46 699.20 L1454.16 687.53 L1454.85 697.77 L1455.55 688.60 L1456.24 698.88 L1456.94 688.60 L1457.63 697.83 L1458.33 687.80 L1459.02 699.14 L1459.72 688.45 L1460.41 698.80 L1461.11 687.22 L1461.80 697.81 L1462.50 687.82 L1463.19 698.75 L1463.89 688.12 L1464.58 699.02 L1465.28 687.04 L1465.97 698.77 L1466.67 687.71 L1467.36 699.48 L1468.06 687.70 L1468.75 698.07 L1469.45 687.62 L1470.14 698.23 L1470.84 688.17 L1471.53 699.15 L1472.23 687.04 L1472.92 698.24 L1473.62 688.15 L1474.31 698.95 L1475.01 687.38 L1475.70 697.90 L1476.40 688.70 L1476.40 701.56 L1477.10 690.63 L1477.80 700.80 L1478.50 690.23 L1479.21 701.66 L1479.91 690.31 L1480.61 700.44 L1481.31 690.88 L1482.01 700.56 L1482.71 690.13 L1483.42 700.95 L1484.12 690.53 L1484.82 700.47 L1485.52 690.70 L1486.22 699.56 L1486.92 690.38 L1487.62 699.32 L1488.33 690.66 L1489.03 699.41 L1489.73 690.75 L1490.43 699.72 L1491.13 691.04 L1491.83 700.42 L1492.54 691.74 L1493.24 699.16 L1493.94 691.04 L1494.64 699.09 L1495.34 691.42 L1496.04 698.69 L1496.74 690.91 L1497.45 699.41 L1498.15 691.24 L1498.85 698.96 L1499.55 692.04 L1500.25 698.56 L1500.95 691.81 L1501.66 699.02 L1502.36 692.19 L1503.06 699.24 L1503.76 691.61 L1504.46 698.34 L1505.16 691.91 L1505.86 697.95 L1506.57 691.59 L1507.27 698.44 L1507.97 691.81 L1508.67 698.81 L1509.37 691.77 L1510.07 698.58 L1510.78 692.14 L1511.48 698.10 L1512.18 692.36 L1512.88 698.12 L1513.58 692.62 L1514.28 697.78 L1514.98 692.94 L1515.69 697.97 L1516.39 692.58 L1517.09 697.55 L1517.79 692.54 L1518.49 697.13 L1519.19 692.49 L1519.90 697.00 L1520.60 692.69 L1521.30 697.31 L1522.00 692.96 L1522.00 704.35 L1523.05 695.95 L1524.10 686.57 L1525.15 691.87 L1526.19 703.24 L1527.24 699.41 L1528.29 687.40 L1529.34 688.68 L1530.39 700.91 L1531.44 702.37 L1532.49 690.29 L1533.53 686.69 L1534.58 697.61 L1535.63 704.77 L1536.68 694.31 L1537.73 685.90 L1538.78 693.80 L1539.83 704.21 L1540.87 698.26 L1541.92 686.77 L1542.97 690.13 L1544.02 701.93 L1545.07 701.80 L1546.12 689.18 L1547.17 686.84 L1548.21 699.13 L1549.26 703.96 L1550.31 692.81 L1551.36 686.27 L1552.41 695.45 L1553.46 704.51 L1554.50 696.59 L1555.55 686.10 L1556.60 691.57 L1557.65 702.77 L1558.70 699.91 L1559.75 687.77 L1560.80 688.10 L1561.84 700.42 L1562.89 703.08 L1563.94 691.27 L1564.99 686.11 L1566.04 696.99 L1567.09 704.20 L1568.14 694.86 L1569.18 685.71 L1570.23 693.29 L1571.28 703.80 L1572.33 698.77 L1573.38 687.44 L1574.43 689.75 L1575.48 702.08 L1576.52 701.93 L1577.57 689.48 L1578.62 686.60 L1579.67 698.74 L1580.72 703.43 L1581.77 693.20 L1582.82 685.30 L1583.86 694.86 L1584.91 704.56 L1585.96 697.05 L1587.01 686.34 L1588.06 690.74 L1589.11 703.30 L1590.16 700.78 L1591.20 688.74 L1592.25 687.81 L1593.30 699.79 L1594.35 703.75 L1595.40 691.29 L1596.45 685.77 L1597.50 696.49 L1598.54 704.75 L1599.59 695.40 L1600.64 685.37 L1601.69 692.62 L1602.74 702.96 L1603.79 699.48 L1604.83 687.34 L1605.88 688.82 L1606.93 701.69 L1607.98 702.28 L1609.03 689.76 L1610.08 687.10 L1611.13 698.38 L1612.17 703.74 L1613.22 693.83 L1614.27 686.00 L1615.32 694.34 L1616.37 703.46 L1617.42 697.70 L1618.47 686.99 L1619.51 690.79 L1620.56 702.33 L1621.61 700.86 L1622.66 688.29 L1623.71 687.10 L1624.76 699.99 L1625.81 704.09 L1626.85 692.12 L1627.90 685.53 L1628.95 695.95 L1630.00 704.89 L1632.00 692.60 L1633.20 791.50 L1633.20 793.49 L1633.85 790.42 L1634.49 794.22 L1635.14 789.61 L1635.79 793.34 L1636.43 790.19 L1637.08 793.73 L1637.73 790.58 L1638.37 794.32 L1639.02 790.37 L1639.67 793.92 L1640.31 790.48 L1640.96 793.93 L1641.61 789.75 L1642.25 793.30 L1642.90 789.85 L1643.55 793.57 L1644.19 790.54 L1644.84 794.19 L1645.49 790.37 L1646.13 794.00 L1646.78 789.78 L1647.43 794.23 L1648.07 790.69 L1648.72 794.04 L1649.37 790.14 L1650.01 793.87 L1650.66 789.53 L1651.31 793.56 L1651.95 790.43 L1652.60 793.41 L1652.60 779.00 L1652.60 784.44 L1653.29 776.33 L1653.98 784.45 L1654.67 777.15 L1655.36 783.96 L1656.05 776.64 L1656.74 784.17 L1657.43 776.24 L1658.12 783.55 L1658.81 776.74 L1659.50 784.20 L1660.19 777.24 L1660.88 784.69 L1661.57 777.14 L1662.26 784.44 L1662.94 777.28 L1663.63 784.85 L1664.32 776.43 L1665.01 784.00 L1665.70 776.76 L1666.39 784.41 L1667.08 776.91 L1667.77 784.66 L1668.46 776.69 L1669.15 785.00 L1669.84 777.26 L1670.53 784.60 L1671.22 777.31 L1671.91 784.13 L1672.60 776.95 L1672.60 789.42 L1673.30 779.25 L1674.00 789.12 L1674.70 779.60 L1675.40 788.94 L1676.10 780.49 L1676.80 789.22 L1677.50 780.59 L1678.20 789.58 L1678.90 780.41 L1679.60 788.69 L1680.30 779.67 L1681.00 790.04 L1681.70 780.10 L1682.40 789.33 L1683.10 779.74 L1683.80 789.75 L1684.50 780.93 L1685.20 789.44 L1685.90 779.87 L1686.60 789.72 L1687.30 780.59 L1688.00 789.66 L1688.70 780.49 L1689.40 789.09 L1690.10 780.50 L1690.80 789.10 L1691.50 781.15 L1692.20 789.78 L1692.90 781.33 L1693.60 789.46 L1694.30 780.09 L1695.00 788.59 L1695.70 780.92 L1696.40 788.88 L1697.10 780.48 L1697.80 788.50 L1698.50 780.66 L1699.20 788.54 L1699.90 780.62 L1700.60 788.71 L1701.30 781.25 L1702.00 788.95 L1702.70 781.08 L1703.40 789.31 L1704.10 781.36 L1704.80 788.44 L1705.50 780.77 L1706.20 788.58 L1706.90 781.58 L1707.60 789.12 L1708.30 781.77 L1709.00 788.09 L1709.70 780.83 L1710.40 788.84 L1711.10 780.94 L1711.80 788.79 L1712.50 781.01 L1713.20 788.45 L1713.90 781.27 L1714.60 788.64 L1714.60 793.69 L1715.65 785.51 L1716.69 775.06 L1717.74 781.36 L1718.78 792.33 L1719.83 789.16 L1720.87 777.81 L1721.92 778.19 L1722.96 789.95 L1724.01 792.54 L1725.05 780.22 L1726.10 775.10 L1727.14 786.56 L1728.19 792.99 L1729.24 784.36 L1730.28 775.43 L1731.33 782.45 L1732.37 793.13 L1733.42 788.24 L1734.46 777.12 L1735.51 778.47 L1736.55 791.19 L1737.60 791.53 L1738.64 779.45 L1739.69 775.91 L1740.73 787.95 L1741.78 793.43 L1742.82 783.28 L1743.87 775.39 L1744.92 783.68 L1745.96 793.44 L1747.01 787.35 L1748.05 775.96 L1749.10 779.87 L1750.14 792.01 L1751.19 790.55 L1752.23 778.42 L1753.28 776.40 L1754.32 788.53 L1755.37 792.92 L1756.41 781.93 L1757.46 774.65 L1758.51 784.86 L1759.55 793.92 L1760.60 786.19 L1761.64 775.15 L1762.69 780.89 L1763.73 792.07 L1764.78 789.74 L1765.82 777.41 L1766.87 777.31 L1767.91 789.56 L1768.96 792.80 L1770.00 780.90 L1771.05 775.38 L1772.09 785.92 L1773.14 793.65 L1774.19 784.99 L1775.23 775.23 L1776.28 782.03 L1777.32 792.54 L1778.37 789.06 L1779.41 777.19 L1780.46 778.10 L1781.50 790.52 L1782.55 792.05 L1783.59 779.72 L1784.64 776.52 L1785.68 787.27 L1786.73 792.96 L1787.78 783.81 L1788.82 775.97 L1789.87 783.05 L1790.91 793.24 L1791.96 787.71 L1793.00 776.46 L1794.05 779.30 L1795.09 791.43 L1796.14 790.85 L1797.18 778.95 L1798.23 776.77 L1799.27 788.54 L1800.32 793.15 L1801.36 782.72 L1802.41 775.69 L1803.46 784.23 L1804.50 793.40 L1805.55 786.84 L1806.59 775.38 L1807.64 780.37 L1808.68 792.54 L1809.73 790.21 L1810.77 778.50 L1811.82 777.70 L1812.86 789.24 L1813.91 793.41 L1814.95 781.73 L1816.00 775.54 L1818.50 773.50 L1822.00 743.60 L1821.60 742.54 L1821.95 744.62 L1822.30 742.46 L1822.65 744.71 L1823.00 742.32 L1823.35 743.39 L1823.70 743.65 L1824.05 743.53 L1824.40 743.23 L1824.75 743.56 L1825.10 743.93 L1825.45 743.44 L1825.80 743.67 L1826.15 743.77 L1826.50 743.25 L1826.85 743.94 L1827.20 742.53 L1827.55 744.81 L1827.90 742.62 L1828.25 743.30 L1828.60 743.58 L1828.95 743.21 L1829.30 743.32 L1829.65 743.38 L1830.00 743.27 L1830.35 743.27 L1830.70 743.36 L1831.05 744.62 L1831.40 742.36 L1831.75 744.71 L1832.10 742.54 L1832.45 744.65 L1832.80 743.24 L1833.15 743.79 L1833.50 743.28 L1833.85 743.96 L1834.20 743.53 L1834.55 743.68 L1834.90 743.89 L1835.25 743.28 L1835.60 743.25 L1835.95 743.75 L1836.30 743.67 L1836.65 744.67 L1837.00 742.46 L1837.35 744.64 L1837.70 742.48 L1838.05 744.67 L1838.40 743.44 L1838.75 743.42 L1839.10 743.71 L1839.45 743.27 L1839.80 743.84 L1840.15 743.60 L1840.50 743.38 L1840.85 743.29 L1841.20 743.61 L1841.55 743.60 L1841.90 742.50 L1842.25 744.71 L1842.60 742.33 L1842.95 744.66 L1843.30 742.31 L1843.65 743.99 L1844.00 743.95 L1844.35 743.41 L1844.70 743.85 L1845.05 743.69 L1845.40 743.36 L1845.75 744.00 L1846.10 743.72 L1846.45 743.85 L1846.80 743.65 L1847.15 743.26 L1847.50 742.57 L1847.85 744.66 L1848.20 742.42 L1848.55 744.64 L1848.90 742.47 L1849.25 744.81 L1849.60 743.73 L1849.95 743.28 L1850.30 743.58 L1850.65 743.72 L1851.00 743.75 L1851.35 743.23 L1851.70 743.35 L1852.05 744.70 L1852.40 742.49 L1852.75 744.70 L1853.10 742.40 L1853.45 744.82 L1853.80 742.41 L1854.15 743.66 L1854.50 743.61 L1854.85 743.35 L1855.20 743.96 L1855.55 743.97 L1855.90 743.82 L1856.25 743.99 L1856.60 743.57 L1856.95 743.87 L1857.30 742.38 L1857.65 744.81 L1858.00 742.32 L1858.35 744.85 L1858.70 743.41 L1859.05 743.83 L1859.40 743.58 L1859.75 743.45 L1860.10 743.49 L1860.45 743.84 L1860.80 743.87 L1861.15 743.88 L1861.50 743.74 L1861.85 743.34 L1862.20 743.32 L1862.55 744.64 L1862.90 742.52 L1863.25 744.61 L1863.60 742.57 L1863.95 744.81 L1864.30 743.88 L1864.65 743.46 L1865.00 743.88 L1865.35 743.44 L1865.70 743.41 L1866.05 743.52 L1866.40 743.21 L1866.75 744.70 L1867.10 742.62 L1867.45 744.85 L1867.80 742.50 L1868.15 743.97 L1868.50 743.38 L1868.85 743.40 L1869.20 743.22 L1869.55 743.28 L1869.90 743.77 L1870.25 744.74 L1870.60 742.54 L1870.95 744.67 L1871.30 742.31 L1871.65 744.70 L1872.00 743.91 L1872.35 743.30 L1872.70 743.88 L1873.05 743.22 L1873.40 743.77 L1873.75 743.85 L1874.10 743.76 L1874.45 743.64 L1874.80 743.85 L1875.15 743.32 L1875.50 743.63 L1875.85 743.41 L1876.20 742.56 L1876.55 744.81 L1876.90 742.44 L1877.25 744.83 L1877.60 743.68 L1877.95 743.94 L1878.30 743.85 L1878.65 743.65 L1879.00 743.46 L1879.35 743.94 L1879.70 743.50 L1880.05 743.28 L1880.40 743.47 L1880.75 743.77 L1881.10 742.42 L1881.45 744.79 L1881.80 742.32 L1882.15 744.83 L1882.50 742.48 L1882.85 744.73 L1883.20 743.45 L1883.55 743.29 L1883.90 743.70 L1884.25 743.85 L1884.60 743.40 L1884.95 743.75 L1885.30 743.91 L1885.65 743.30 L1886.00 743.31 L1886.35 743.59 L1886.70 743.47 L1887.05 744.90 L1887.40 742.48 L1887.75 744.83 L1888.10 742.42 L1888.45 744.63 L1888.80 742.31 L1889.15 743.26 L1889.50 743.56 L1889.85 743.21 L1890.20 743.58 L1890.55 743.53 L1890.90 743.96 L1891.25 743.53 L1891.60 742.37 L1891.95 744.77 L1892.30 742.55 L1892.65 744.67 L1893.00 742.47 L1893.35 744.70"/>
<path stroke="#8ab8ff" d="M48.50 722.50 L50.00 726.00 L52.00 726.76 L53.00 722.27 L53.80 727.06 L55.90 727.49 L56.90 721.45 L57.70 727.79 L59.80 728.23 L60.80 722.73 L61.60 728.53 L63.70 728.96 L64.70 724.48 L65.50 729.26 L67.60 729.70 L68.60 720.91 L69.40 730.00 L71.50 730.44 L72.50 721.51 L73.30 730.74 L75.40 731.17 L76.40 720.05 L77.20 731.47 L79.30 731.91 L80.30 720.42 L81.10 732.21 L83.20 732.64 L84.20 720.25 L85.00 732.94 L87.10 733.38 L88.10 721.90 L88.90 733.68 L91.00 734.12 L92.00 723.76 L92.80 734.42 L94.90 734.85 L95.90 723.14 L96.70 735.15 L98.80 735.59 L99.80 724.35 L100.60 735.89 L102.70 736.33 L103.70 723.77 L104.50 736.63 L106.60 737.06 L107.60 722.64 L108.40 737.36 L110.50 737.80 L111.50 722.61 L112.30 738.10 L114.40 738.53 L115.40 720.06 L116.20 738.83 L118.30 739.27 L119.30 721.73 L120.10 739.57 L122.20 740.01 L123.20 721.18 L124.00 740.31 L126.10 740.74 L127.10 722.79 L127.90 741.04 L130.00 741.48 L131.00 720.29 L131.80 741.78 L133.90 742.22 L134.90 722.44 L135.70 742.52 L137.80 742.95 L138.80 721.69 L139.60 743.25 L141.70 743.69 L142.70 722.21 L143.50 743.99 L145.60 744.42 L146.60 721.82 L147.40 744.72 L146.00 744.50 L147.00 720.30 L224.20 744.50 L226.50 744.50 L226.50 291.80 L227.50 271.80 L228.50 291.80 L228.50 727.00 L232.00 727.41 L233.00 723.41 L233.80 727.71 L236.00 728.19 L237.00 724.19 L237.80 728.49 L240.00 728.97 L241.00 730.50 L241.80 729.27 L244.00 729.75 L245.00 729.49 L245.80 730.05 L248.00 730.53 L249.00 727.08 L249.80 730.83 L252.00 731.31 L253.00 729.50 L253.80 731.61 L256.00 732.09 L257.00 730.86 L257.80 732.39 L260.00 732.87 L261.00 731.43 L261.80 733.17 L264.00 733.65 L265.00 730.29 L265.80 733.95 L268.00 734.43 L269.00 726.73 L269.80 734.73 L272.00 735.21 L273.00 730.89 L273.80 735.51 L276.00 735.99 L277.00 729.83 L277.80 736.29 L280.00 736.77 L281.00 727.88 L281.80 737.07 L284.00 737.55 L285.00 731.10 L285.80 737.85 L288.00 738.33 L289.00 730.63 L289.80 738.63 L292.00 739.11 L293.00 730.98 L293.80 739.41 L296.00 739.89 L297.00 727.74 L297.80 740.19 L300.00 740.67 L301.00 729.38 L301.80 740.97 L304.00 741.45 L305.00 728.39 L305.80 741.75 L308.00 742.23 L309.00 727.98 L309.80 742.53 L312.00 743.01 L313.00 730.31 L313.80 743.31 L316.00 743.79 L317.00 729.58 L317.80 744.09 L320.00 744.57 L321.00 728.16 L321.80 744.87 L324.00 745.35 L325.00 729.22 L325.80 745.65 L328.00 746.13 L329.00 731.14 L329.80 746.43 L332.00 746.91 L333.00 729.33 L333.80 747.21 L336.00 747.69 L337.00 731.07 L337.80 747.99 L340.00 748.47 L341.00 729.33 L341.80 748.77 L344.00 749.25 L345.00 731.46 L345.80 749.55 L348.00 750.03 L349.00 726.65 L349.80 750.33 L352.00 750.81 L353.00 728.80 L353.80 751.11 L356.00 751.59 L357.00 729.26 L357.80 751.89 L360.00 752.37 L361.00 730.13 L361.80 752.67 L364.00 753.15 L365.00 731.34 L365.80 753.45 L368.00 753.93 L369.00 729.62 L369.80 754.23 L372.00 754.71 L373.00 728.89 L373.80 755.01 L376.00 755.49 L377.00 729.67 L377.80 755.79 L380.00 756.27 L381.00 729.17 L381.80 756.57 L384.00 757.05 L385.00 730.02 L385.80 757.35 L388.00 757.83 L389.00 731.23 L389.80 758.13 L392.00 758.61 L393.00 726.57 L393.80 758.91 L395.00 759.20 L396.00 726.80 L498.60 759.20 L500.50 759.20 L500.50 391.80 L502.00 271.80 L503.50 391.80 L503.50 761.60 L515.00 761.60 L516.50 761.60 L516.50 391.80 L518.00 271.80 L519.50 391.80 L519.50 771.40 L525.60 771.40 L527.50 771.40 L527.50 391.80 L529.00 271.80 L530.50 391.80 L530.50 764.90 L533.50 766.00 L535.80 764.90 L538.50 764.90 L538.50 391.80 L540.00 271.80 L541.50 391.80 L541.50 753.70 L548.80 753.70 L551.30 753.70 L551.30 391.80 L552.65 271.80 L554.00 391.80 L554.00 779.30 L561.80 779.30 L563.50 779.30 L563.50 391.80 L565.00 271.80 L566.50 391.80 L566.50 779.30 L573.00 779.30 L574.50 779.30 L574.50 391.80 L576.00 271.80 L577.50 391.80 L577.50 762.00 L592.00 762.00 L593.50 762.00 L593.50 391.80 L595.00 271.80 L596.50 391.80 L596.50 771.40 L610.40 771.40 L611.50 771.40 L611.50 391.80 L613.00 271.80 L614.50 391.80 L614.50 765.20 L628.50 765.20 L629.50 765.20 L629.50 391.80 L631.00 271.80 L632.50 391.80 L632.50 753.80 L644.70 754.20 L647.50 754.20 L647.50 391.80 L649.00 271.80 L650.50 391.80 L650.50 779.30 L664.00 779.30 L665.00 783.00 L678.00 783.50 L679.50 783.50 L679.50 391.80 L681.00 271.80 L682.50 391.80 L682.50 779.30 L695.80 779.30 L697.50 779.30 L697.50 391.80 L699.00 271.80 L700.50 391.80 L700.50 763.80 L702.50 763.80 L703.30 765.76 L704.10 763.80 L705.50 763.80 L706.30 767.43 L707.10 763.80 L708.50 763.80 L709.30 764.98 L710.10 763.80 L711.50 763.80 L712.30 767.17 L713.10 763.80 L714.50 763.80 L715.30 764.89 L716.10 763.80 L717.50 763.80 L718.30 766.74 L719.10 763.80 L720.50 763.80 L721.30 767.20 L722.10 763.80 L723.50 763.80 L724.30 765.51 L725.10 763.80 L726.50 763.80 L727.30 765.94 L728.10 763.80 L729.50 763.80 L730.30 765.48 L731.10 763.80 L732.50 763.80 L733.30 766.91 L734.10 763.80 L735.50 763.80 L736.30 766.39 L737.10 763.80 L738.50 763.80 L739.30 766.62 L740.10 763.80 L741.50 763.80 L742.30 765.78 L743.10 763.80 L744.50 763.80 L745.30 766.56 L746.10 763.80 L747.50 763.80 L748.30 767.66 L749.10 763.80 L750.50 763.80 L751.30 767.14 L752.10 763.80 L753.50 763.80 L754.30 767.66 L755.10 763.80 L756.40 762.60 L815.00 760.00 L817.00 763.20 L817.70 762.70 L818.20 764.23 L818.80 763.00 L819.60 763.92 L820.40 767.65 L820.90 764.53 L821.50 763.31 L822.00 762.70 L822.50 764.23 L823.10 763.00 L823.90 763.92 L824.70 768.06 L825.20 764.53 L825.80 763.31 L826.30 762.70 L826.80 764.23 L827.40 763.00 L828.20 763.92 L829.00 767.86 L829.50 764.53 L830.10 763.31 L830.60 762.70 L831.10 764.23 L831.70 763.00 L832.50 763.92 L833.30 767.80 L833.80 764.53 L834.40 763.31 L834.90 762.70 L835.40 764.23 L836.00 763.00 L836.80 763.92 L837.60 768.50 L838.10 764.53 L838.70 763.31 L839.20 762.70 L839.70 764.23 L840.30 763.00 L841.10 763.92 L841.90 767.54 L842.40 764.53 L843.00 763.31 L843.50 762.70 L844.00 764.23 L844.60 763.00 L845.40 763.92 L846.20 768.13 L846.70 764.53 L847.30 763.31 L847.80 762.70 L848.30 764.23 L848.90 763.00 L849.70 763.92 L850.50 768.46 L851.00 764.53 L851.60 763.31 L852.10 762.70 L852.60 764.23 L853.20 763.00 L854.00 763.92 L854.80 768.70 L855.30 764.53 L855.90 763.31 L856.40 762.70 L856.90 764.23 L857.50 763.00 L858.30 763.92 L859.10 767.30 L859.60 764.53 L860.20 763.31 L860.70 762.70 L861.20 764.23 L861.80 763.00 L862.60 763.92 L863.40 767.69 L863.90 764.53 L864.50 763.31 L865.00 762.70 L865.50 764.23 L866.10 763.00 L866.90 763.92 L867.70 768.03 L868.20 764.53 L868.80 763.31 L869.30 762.70 L869.80 764.23 L870.40 763.00 L871.20 763.92 L872.00 768.70 L872.50 764.53 L873.10 763.31 L873.60 762.70 L874.10 764.23 L874.70 763.00 L875.50 763.92 L876.30 767.52 L876.80 764.53 L877.40 763.31 L877.90 762.70 L878.40 764.23 L879.00 763.00 L879.80 763.92 L880.60 768.56 L881.10 764.53 L881.70 763.31 L882.20 762.70 L882.70 764.23 L883.30 763.00 L884.10 763.92 L884.90 767.88 L885.40 764.53 L886.00 763.31 L886.50 762.70 L887.00 764.23 L887.60 763.00 L888.40 763.92 L889.20 768.11 L889.70 764.53 L890.30 763.31 L890.80 762.70 L891.30 764.23 L891.90 763.00 L892.70 763.92 L893.50 768.69 L894.00 764.53 L894.60 763.31 L895.10 762.70 L895.60 764.23 L896.20 763.00 L897.00 763.92 L897.80 767.37 L898.30 764.53 L898.90 763.31 L899.40 762.70 L899.90 764.23 L900.50 763.00 L901.30 763.92 L902.10 767.78 L902.60 764.53 L903.20 763.31 L903.70 762.70 L904.20 764.23 L904.80 763.00 L905.60 763.92 L906.40 767.51 L906.90 764.53 L907.50 763.31 L908.00 762.70 L908.50 764.23 L909.10 763.00 L909.90 763.92 L910.70 767.48 L911.20 764.53 L911.80 763.31 L912.30 762.70 L912.80 764.23 L913.40 763.00 L914.20 763.92 L915.00 767.74 L915.50 764.53 L916.10 763.31 L916.60 762.70 L917.10 764.23 L917.70 763.00 L918.50 763.92 L919.30 768.34 L919.80 764.53 L920.40 763.31 L920.90 762.70 L921.40 764.23 L922.00 763.00 L922.80 763.92 L923.60 768.16 L924.10 764.53 L924.70 763.31 L925.20 762.70 L925.70 764.23 L926.30 763.00 L927.10 763.92 L927.90 767.46 L928.40 764.53 L929.00 763.31 L927.50 763.31 L928.40 611.22 L929.50 768.00 L931.00 763.30 L933.50 772.00 L934.50 764.00 L936.50 763.30 L939.00 772.00 L940.00 764.00 L942.00 763.30 L944.50 772.00 L945.50 764.00 L944.50 764.00 L945.40 601.34 L946.50 770.00 L950.00 768.00 L952.90 768.00 L952.90 391.80 L954.20 271.80 L955.50 391.80 L955.50 772.60 L959.30 772.60 L960.20 607.04 L961.20 772.60 L961.40 772.60 L962.30 601.34 L963.30 772.60 L964.35 772.60 L965.25 601.34 L966.25 772.60 L967.40 772.60 L968.30 599.44 L969.30 772.60 L969.50 773.51 L970.53 775.46 L971.56 773.22 L972.59 773.81 L973.62 772.62 L974.66 773.83 L975.69 771.61 L976.72 773.63 L977.75 773.98 L978.78 775.48 L979.81 773.31 L980.84 773.68 L981.88 773.57 L982.91 774.71 L983.94 772.44 L984.97 773.89 L986.00 771.70 L985.75 773.06 L986.35 773.06 L987.25 601.34 L988.25 775.00 L989.75 768.10 L990.35 768.10 L991.25 598.30 L992.25 775.00 L993.70 774.01 L994.30 774.01 L995.20 598.30 L996.20 775.00 L996.80 773.90 L997.40 773.90 L998.30 608.18 L999.30 775.00 L1001.70 769.76 L1002.30 769.76 L1003.20 599.44 L1004.20 775.00 L1009.60 767.88 L1010.20 767.88 L1011.10 611.22 L1012.10 775.00 L1013.75 769.54 L1014.35 769.54 L1015.25 604.38 L1016.25 775.00 L1022.70 773.94 L1023.30 773.94 L1024.20 599.44 L1025.20 775.00 L1025.50 770.54 L1026.54 773.52 L1027.57 770.46 L1028.61 773.48 L1029.64 772.09 L1030.68 772.08 L1031.71 770.74 L1032.75 772.41 L1033.79 771.58 L1034.82 773.70 L1035.86 772.71 L1036.89 772.53 L1037.93 772.13 L1038.96 773.77 L1040.00 770.64 L1042.00 770.00 L1045.00 769.50 L1083.00 769.50 L1083.00 771.00 L1083.50 773.75 L1084.10 771.55 L1084.90 773.20 L1085.70 779.84 L1086.20 774.30 L1086.80 772.10 L1087.30 771.00 L1087.80 773.75 L1088.40 771.55 L1089.20 773.20 L1090.00 780.14 L1090.50 774.30 L1091.10 772.10 L1091.60 771.00 L1092.10 773.75 L1092.70 771.55 L1093.50 773.20 L1094.30 780.03 L1094.80 774.30 L1095.40 772.10 L1095.90 771.00 L1096.40 773.75 L1097.00 771.55 L1097.80 773.20 L1098.60 781.63 L1099.10 774.30 L1099.70 772.10 L1100.20 771.00 L1100.70 773.75 L1101.30 771.55 L1102.10 773.20 L1102.90 781.01 L1103.40 774.30 L1104.00 772.10 L1104.50 771.00 L1105.00 773.75 L1105.60 771.55 L1106.40 773.20 L1107.20 780.57 L1107.70 774.30 L1108.30 772.10 L1108.80 771.00 L1109.30 773.75 L1109.90 771.55 L1110.70 773.20 L1111.50 780.29 L1112.00 774.30 L1112.60 772.10 L1113.10 771.00 L1113.60 773.75 L1114.20 771.55 L1115.00 773.20 L1115.80 781.78 L1116.30 774.30 L1116.90 772.10 L1117.40 771.00 L1117.90 773.75 L1118.50 771.55 L1119.30 773.20 L1120.10 781.83 L1120.60 774.30 L1121.20 772.10 L1121.70 771.00 L1122.20 773.75 L1122.80 771.55 L1123.60 773.20 L1124.40 780.49 L1124.90 774.30 L1125.50 772.10 L1126.00 771.00 L1126.50 773.75 L1127.10 771.55 L1127.90 773.20 L1128.70 780.81 L1129.20 774.30 L1129.80 772.10 L1130.30 771.00 L1130.80 773.75 L1131.40 771.55 L1132.20 773.20 L1133.00 781.62 L1133.50 774.30 L1134.10 772.10 L1134.60 771.00 L1135.10 773.75 L1135.70 771.55 L1136.50 773.20 L1137.30 779.96 L1137.80 774.30 L1138.40 772.10 L1138.90 771.00 L1139.40 773.75 L1140.00 771.55 L1140.80 773.20 L1141.60 779.96 L1142.10 774.30 L1142.70 772.10 L1143.20 771.00 L1143.70 773.75 L1144.30 771.55 L1145.10 773.20 L1145.90 779.53 L1146.40 774.30 L1147.00 772.10 L1147.50 771.00 L1148.00 773.75 L1148.60 771.55 L1149.40 773.20 L1150.20 780.63 L1150.70 774.30 L1151.30 772.10 L1151.80 771.00 L1152.30 773.75 L1152.90 771.55 L1153.70 773.20 L1154.50 781.36 L1155.00 774.30 L1155.60 772.10 L1156.10 771.00 L1156.60 773.75 L1157.20 771.55 L1158.00 773.20 L1158.80 779.68 L1159.30 774.30 L1159.90 772.10 L1160.40 771.00 L1160.90 773.75 L1161.50 771.55 L1162.30 773.20 L1163.10 780.44 L1163.60 774.30 L1164.20 772.10 L1164.70 771.00 L1165.20 773.75 L1165.80 771.55 L1166.60 773.20 L1167.40 781.97 L1167.90 774.30 L1168.50 772.10 L1169.00 771.00 L1169.50 773.75 L1170.10 771.55 L1170.90 773.20 L1171.70 780.57 L1172.20 774.30 L1172.80 772.10 L1173.30 771.00 L1173.80 773.75 L1174.40 771.55 L1175.20 773.20 L1176.00 780.30 L1176.50 774.30 L1177.10 772.10 L1177.60 771.00 L1178.10 773.75 L1178.70 771.55 L1179.50 773.20 L1180.30 781.56 L1180.80 774.30 L1181.40 772.10 L1181.90 771.00 L1182.40 773.75 L1183.00 771.55 L1183.80 773.20 L1184.60 781.70 L1185.10 774.30 L1185.70 772.10 L1186.20 771.00 L1186.70 773.75 L1187.30 771.55 L1188.10 773.20 L1188.90 780.28 L1189.40 774.30 L1190.00 772.10 L1190.50 771.00 L1191.00 773.75 L1191.60 771.55 L1192.40 773.20 L1193.20 779.59 L1193.70 774.30 L1194.30 772.10 L1194.80 771.00 L1195.30 773.75 L1195.90 771.55 L1196.70 773.20 L1197.50 781.00 L1198.00 774.30 L1198.60 772.10 L1199.10 771.00 L1199.60 773.75 L1200.20 771.55 L1201.00 773.20 L1201.80 781.29 L1202.30 774.30 L1202.90 772.10 L1203.40 771.00 L1203.90 773.75 L1204.50 771.55 L1205.30 773.20 L1206.10 781.79 L1206.60 774.30 L1207.20 772.10 L1207.70 771.00 L1208.20 773.75 L1208.80 771.55 L1209.60 773.20 L1210.40 781.07 L1210.90 774.30 L1211.50 772.10 L1214.30 772.10 L1214.30 391.80 L1215.90 271.80 L1217.50 391.80 L1217.50 765.10 L1218.00 764.75 L1219.22 766.40 L1220.44 764.46 L1221.67 766.03 L1222.89 764.43 L1224.11 766.74 L1225.33 765.97 L1226.56 766.79 L1227.78 764.51 L1229.00 765.47 L1230.22 765.31 L1231.44 765.57 L1232.67 764.98 L1233.89 765.83 L1235.11 764.42 L1236.33 766.35 L1237.56 764.70 L1238.78 766.05 L1240.00 765.47 L1239.90 766.00 L1240.50 766.00 L1241.40 600.20 L1242.40 767.00 L1243.90 766.00 L1244.50 766.00 L1245.40 614.26 L1246.40 767.00 L1248.90 766.00 L1249.50 766.00 L1250.40 610.46 L1251.40 767.00 L1257.90 766.00 L1258.50 766.00 L1259.40 611.22 L1260.40 767.00 L1261.00 765.34 L1262.00 767.12 L1263.00 764.52 L1264.00 766.92 L1265.00 765.25 L1266.00 766.09 L1267.00 765.02 L1268.00 766.88 L1269.00 765.00 L1270.00 766.06 L1270.00 764.50 L1309.00 764.50 L1309.00 764.90 L1309.50 766.85 L1310.10 765.29 L1310.90 766.46 L1311.70 771.15 L1312.20 767.24 L1312.80 765.68 L1313.30 764.90 L1313.80 766.85 L1314.40 765.29 L1315.20 766.46 L1316.00 770.85 L1316.50 767.24 L1317.10 765.68 L1317.60 764.90 L1318.10 766.85 L1318.70 765.29 L1319.50 766.46 L1320.30 771.06 L1320.80 767.24 L1321.40 765.68 L1321.90 764.90 L1322.40 766.85 L1323.00 765.29 L1323.80 766.46 L1324.60 771.42 L1325.10 767.24 L1325.70 765.68 L1326.20 764.90 L1326.70 766.85 L1327.30 765.29 L1328.10 766.46 L1328.90 772.28 L1329.40 767.24 L1330.00 765.68 L1330.50 764.90 L1331.00 766.85 L1331.60 765.29 L1332.40 766.46 L1333.20 772.48 L1333.70 767.24 L1334.30 765.68 L1334.80 764.90 L1335.30 766.85 L1335.90 765.29 L1336.70 766.46 L1337.50 771.21 L1338.00 767.24 L1338.60 765.68 L1339.10 764.90 L1339.60 766.85 L1340.20 765.29 L1341.00 766.46 L1341.80 772.27 L1342.30 767.24 L1342.90 765.68 L1343.40 764.90 L1343.90 766.85 L1344.50 765.29 L1345.30 766.46 L1346.10 771.61 L1346.60 767.24 L1347.20 765.68 L1347.70 764.90 L1348.20 766.85 L1348.80 765.29 L1349.60 766.46 L1350.40 771.80 L1350.90 767.24 L1351.50 765.68 L1352.00 764.90 L1352.50 766.85 L1353.10 765.29 L1353.90 766.46 L1354.70 771.79 L1355.20 767.24 L1355.80 765.68 L1356.30 764.90 L1356.80 766.85 L1357.40 765.29 L1358.20 766.46 L1359.00 770.83 L1359.50 767.24 L1360.10 765.68 L1360.60 764.90 L1361.10 766.85 L1361.70 765.29 L1362.50 766.46 L1363.30 770.88 L1363.80 767.24 L1364.40 765.68 L1364.90 764.90 L1365.40 766.85 L1366.00 765.29 L1366.80 766.46 L1367.60 772.05 L1368.10 767.24 L1368.70 765.68 L1369.20 764.90 L1369.70 766.85 L1370.30 765.29 L1371.10 766.46 L1371.90 772.09 L1372.40 767.24 L1373.00 765.68 L1373.50 764.90 L1374.00 766.85 L1374.60 765.29 L1375.40 766.46 L1376.20 771.49 L1376.70 767.24 L1377.30 765.68 L1377.80 764.90 L1378.30 766.85 L1378.90 765.29 L1379.70 766.46 L1380.50 772.54 L1381.00 767.24 L1381.60 765.68 L1382.10 764.90 L1382.60 766.85 L1383.20 765.29 L1384.00 766.46 L1384.80 772.35 L1385.30 767.24 L1385.90 765.68 L1386.40 764.90 L1386.90 766.85 L1387.50 765.29 L1388.30 766.46 L1389.10 771.34 L1389.60 767.24 L1390.20 765.68 L1390.70 764.90 L1391.20 766.85 L1391.80 765.29 L1392.60 766.46 L1393.40 770.88 L1393.90 767.24 L1394.50 765.68 L1395.00 764.90 L1395.50 766.85 L1396.10 765.29 L1396.90 766.46 L1397.70 771.83 L1398.20 767.24 L1398.80 765.68 L1399.30 764.90 L1399.80 766.85 L1400.40 765.29 L1401.20 766.46 L1402.00 772.03 L1402.50 767.24 L1403.10 765.68 L1403.60 764.90 L1404.10 766.85 L1404.70 765.29 L1405.50 766.46 L1406.30 771.19 L1406.80 767.24 L1407.40 765.68 L1407.90 764.90 L1408.40 766.85 L1409.00 765.29 L1409.80 766.46 L1410.60 770.84 L1411.10 767.24 L1411.70 765.68 L1412.20 764.90 L1412.70 766.85 L1413.30 765.29 L1414.10 766.46 L1414.90 771.70 L1415.40 767.24 L1416.00 765.68 L1416.50 764.90 L1417.00 766.85 L1417.60 765.29 L1418.40 766.46 L1419.20 770.82 L1419.70 767.24 L1420.30 765.68 L1423.50 765.68 L1423.50 391.80 L1424.70 271.80 L1425.90 391.80 L1425.90 754.60 L1427.00 754.60 L1427.80 756.57 L1428.60 754.60 L1429.50 754.60 L1430.30 756.35 L1431.10 754.60 L1432.00 754.60 L1432.80 755.66 L1433.60 754.60 L1434.50 754.60 L1435.30 755.99 L1436.10 754.60 L1437.00 754.60 L1437.80 755.57 L1438.60 754.60 L1439.50 754.60 L1440.30 755.47 L1441.10 754.60 L1442.00 754.60 L1442.80 755.46 L1443.60 754.60 L1444.50 754.60 L1445.30 756.73 L1446.10 754.60 L1447.00 754.60 L1447.80 756.01 L1448.60 754.60 L1449.50 754.60 L1450.30 756.53 L1451.10 754.60 L1452.00 754.60 L1452.80 755.80 L1453.60 754.60 L1454.50 754.60 L1455.30 756.71 L1456.10 754.60 L1457.00 754.60 L1457.80 756.29 L1458.60 754.60 L1459.50 754.60 L1460.30 756.41 L1461.10 754.60 L1462.00 754.60 L1462.80 755.89 L1463.60 754.60 L1464.50 754.60 L1465.30 756.22 L1466.10 754.60 L1467.00 754.60 L1467.80 755.48 L1468.60 754.60 L1469.50 754.60 L1470.30 757.05 L1471.10 754.60 L1472.00 754.60 L1472.80 756.44 L1473.60 754.60 L1474.50 754.60 L1475.30 756.16 L1476.10 754.60 L1476.40 753.30 L1522.00 753.30 L1522.00 752.70 L1522.50 754.58 L1523.10 753.08 L1523.90 754.20 L1524.70 759.52 L1525.20 754.95 L1525.80 753.45 L1526.30 752.70 L1526.80 754.58 L1527.40 753.08 L1528.20 754.20 L1529.00 758.51 L1529.50 754.95 L1530.10 753.45 L1530.60 752.70 L1531.10 754.58 L1531.70 753.08 L1532.50 754.20 L1533.30 758.95 L1533.80 754.95 L1534.40 753.45 L1534.90 752.70 L1535.40 754.58 L1536.00 753.08 L1536.80 754.20 L1537.60 758.76 L1538.10 754.95 L1538.70 753.45 L1539.20 752.70 L1539.70 754.58 L1540.30 753.08 L1541.10 754.20 L1541.90 759.91 L1542.40 754.95 L1543.00 753.45 L1543.50 752.70 L1544.00 754.58 L1544.60 753.08 L1545.40 754.20 L1546.20 758.35 L1546.70 754.95 L1547.30 753.45 L1547.80 752.70 L1548.30 754.58 L1548.90 753.08 L1549.70 754.20 L1550.50 759.16 L1551.00 754.95 L1551.60 753.45 L1552.10 752.70 L1552.60 754.58 L1553.20 753.08 L1554.00 754.20 L1554.80 759.95 L1555.30 754.95 L1555.90 753.45 L1556.40 752.70 L1556.90 754.58 L1557.50 753.08 L1558.30 754.20 L1559.10 759.79 L1559.60 754.95 L1560.20 753.45 L1560.70 752.70 L1561.20 754.58 L1561.80 753.08 L1562.60 754.20 L1563.40 759.67 L1563.90 754.95 L1564.50 753.45 L1565.00 752.70 L1565.50 754.58 L1566.10 753.08 L1566.90 754.20 L1567.70 758.89 L1568.20 754.95 L1568.80 753.45 L1569.30 752.70 L1569.80 754.58 L1570.40 753.08 L1571.20 754.20 L1572.00 758.76 L1572.50 754.95 L1573.10 753.45 L1573.60 752.70 L1574.10 754.58 L1574.70 753.08 L1575.50 754.20 L1576.30 759.65 L1576.80 754.95 L1577.40 753.45 L1577.90 752.70 L1578.40 754.58 L1579.00 753.08 L1579.80 754.20 L1580.60 758.88 L1581.10 754.95 L1581.70 753.45 L1582.20 752.70 L1582.70 754.58 L1583.30 753.08 L1584.10 754.20 L1584.90 759.68 L1585.40 754.95 L1586.00 753.45 L1586.50 752.70 L1587.00 754.58 L1587.60 753.08 L1588.40 754.20 L1589.20 758.98 L1589.70 754.95 L1590.30 753.45 L1590.80 752.70 L1591.30 754.58 L1591.90 753.08 L1592.70 754.20 L1593.50 759.75 L1594.00 754.95 L1594.60 753.45 L1595.10 752.70 L1595.60 754.58 L1596.20 753.08 L1597.00 754.20 L1597.80 759.40 L1598.30 754.95 L1598.90 753.45 L1599.40 752.70 L1599.90 754.58 L1600.50 753.08 L1601.30 754.20 L1602.10 759.85 L1602.60 754.95 L1603.20 753.45 L1603.70 752.70 L1604.20 754.58 L1604.80 753.08 L1605.60 754.20 L1606.40 760.17 L1606.90 754.95 L1607.50 753.45 L1608.00 752.70 L1608.50 754.58 L1609.10 753.08 L1609.90 754.20 L1610.70 759.03 L1611.20 754.95 L1611.80 753.45 L1612.30 752.70 L1612.80 754.58 L1613.40 753.08 L1614.20 754.20 L1615.00 760.17 L1615.50 754.95 L1616.10 753.45 L1616.60 752.70 L1617.10 754.58 L1617.70 753.08 L1618.50 754.20 L1619.30 758.34 L1619.80 754.95 L1620.40 753.45 L1620.90 752.70 L1621.40 754.58 L1622.00 753.08 L1622.80 754.20 L1623.60 759.97 L1624.10 754.95 L1624.70 753.45 L1625.20 752.70 L1625.70 754.58 L1626.30 753.08 L1627.10 754.20 L1627.90 758.38 L1628.40 754.95 L1629.00 753.45 L1631.50 753.45 L1631.50 391.80 L1632.75 271.80 L1634.00 391.80 L1634.00 779.60 L1642.60 779.60 L1642.50 779.60 L1643.40 611.22 L1644.40 779.00 L1645.50 779.00 L1646.40 616.16 L1647.40 779.00 L1649.40 779.00 L1650.30 604.38 L1651.30 779.00 L1651.30 778.30 L1714.60 778.30 L1714.60 779.00 L1715.10 780.25 L1715.70 779.25 L1716.50 780.00 L1717.30 783.43 L1717.80 780.50 L1718.40 779.50 L1718.90 779.00 L1719.40 780.25 L1720.00 779.25 L1720.80 780.00 L1721.60 783.24 L1722.10 780.50 L1722.70 779.50 L1723.20 779.00 L1723.70 780.25 L1724.30 779.25 L1725.10 780.00 L1725.90 783.71 L1726.40 780.50 L1727.00 779.50 L1727.50 779.00 L1728.00 780.25 L1728.60 779.25 L1729.40 780.00 L1730.20 783.14 L1730.70 780.50 L1731.30 779.50 L1731.80 779.00 L1732.30 780.25 L1732.90 779.25 L1733.70 780.00 L1734.50 783.01 L1735.00 780.50 L1735.60 779.50 L1736.10 779.00 L1736.60 780.25 L1737.20 779.25 L1738.00 780.00 L1738.80 783.73 L1739.30 780.50 L1739.90 779.50 L1740.40 779.00 L1740.90 780.25 L1741.50 779.25 L1742.30 780.00 L1743.10 783.44 L1743.60 780.50 L1744.20 779.50 L1744.70 779.00 L1745.20 780.25 L1745.80 779.25 L1746.60 780.00 L1747.40 783.69 L1747.90 780.50 L1748.50 779.50 L1749.00 779.00 L1749.50 780.25 L1750.10 779.25 L1750.90 780.00 L1751.70 783.36 L1752.20 780.50 L1752.80 779.50 L1753.30 779.00 L1753.80 780.25 L1754.40 779.25 L1755.20 780.00 L1756.00 782.80 L1756.50 780.50 L1757.10 779.50 L1757.60 779.00 L1758.10 780.25 L1758.70 779.25 L1759.50 780.00 L1760.30 783.71 L1760.80 780.50 L1761.40 779.50 L1761.90 779.00 L1762.40 780.25 L1763.00 779.25 L1763.80 780.00 L1764.60 783.02 L1765.10 780.50 L1765.70 779.50 L1766.20 779.00 L1766.70 780.25 L1767.30 779.25 L1768.10 780.00 L1768.90 783.34 L1769.40 780.50 L1770.00 779.50 L1770.50 779.00 L1771.00 780.25 L1771.60 779.25 L1772.40 780.00 L1773.20 782.75 L1773.70 780.50 L1774.30 779.50 L1774.80 779.00 L1775.30 780.25 L1775.90 779.25 L1776.70 780.00 L1777.50 783.07 L1778.00 780.50 L1778.60 779.50 L1779.10 779.00 L1779.60 780.25 L1780.20 779.25 L1781.00 780.00 L1781.80 783.58 L1782.30 780.50 L1782.90 779.50 L1783.40 779.00 L1783.90 780.25 L1784.50 779.25 L1785.30 780.00 L1786.10 783.71 L1786.60 780.50 L1787.20 779.50 L1787.70 779.00 L1788.20 780.25 L1788.80 779.25 L1789.60 780.00 L1790.40 783.55 L1790.90 780.50 L1791.50 779.50 L1792.00 779.00 L1792.50 780.25 L1793.10 779.25 L1793.90 780.00 L1794.70 783.30 L1795.20 780.50 L1795.80 779.50 L1796.30 779.00 L1796.80 780.25 L1797.40 779.25 L1798.20 780.00 L1799.00 783.67 L1799.50 780.50 L1800.10 779.50 L1800.60 779.00 L1801.10 780.25 L1801.70 779.25 L1802.50 780.00 L1803.30 783.59 L1803.80 780.50 L1804.40 779.50 L1804.90 779.00 L1805.40 780.25 L1806.00 779.25 L1806.80 780.00 L1807.60 783.01 L1808.10 780.50 L1808.70 779.50 L1809.20 779.00 L1809.70 780.25 L1810.30 779.25 L1811.10 780.00 L1811.90 783.42 L1812.40 780.50 L1813.00 779.50 L1813.50 779.00 L1814.00 780.25 L1814.60 779.25 L1815.40 780.00 L1816.20 783.50 L1816.70 780.50 L1817.30 779.50 L1818.50 779.50 L1818.50 391.80 L1820.00 271.80 L1821.50 391.80 L1821.50 781.50 L1823.00 781.50 L1824.40 607.00 L1825.70 782.59 L1826.10 782.59 L1827.50 608.20 L1828.80 781.80 L1830.10 781.80 L1831.50 610.00 L1832.80 781.97 L1833.10 781.97 L1834.50 601.10 L1835.80 782.01 L1836.00 782.01 L1837.40 613.10 L1838.70 781.64 L1842.50 781.64 L1843.90 617.10 L1845.20 782.02 L1846.10 782.02 L1847.50 601.10 L1848.80 782.59 L1850.10 782.59 L1851.50 601.10 L1852.80 782.37 L1854.10 782.37 L1855.50 601.10 L1856.80 781.76 L1857.70 781.76 L1859.10 614.00 L1860.40 782.60 L1861.00 782.60 L1862.40 605.10 L1863.70 781.68 L1865.00 781.68 L1866.40 605.10 L1867.70 782.63 L1869.00 782.63 L1870.40 607.00 L1871.70 781.72 L1874.00 781.72 L1875.40 603.00 L1876.70 781.64 L1878.00 781.64 L1879.40 611.00 L1880.70 781.88 L1882.00 781.88 L1883.40 600.00 L1884.70 782.27 L1886.00 782.27 L1887.40 605.10 L1888.70 781.91 L1892.20 781.91 L1893.60 609.10 L1894.90 782.83"/>
</g>
</svg>

<div class="title">External Website Page</div>
<svg width="26" height="26" viewBox="0 0 26 26" style="left:33px;top:85px" fill="none" stroke="#262a31" stroke-width="2.3">
<path d="M2 25 V11 L13 1.5 L24 11 V25"/><rect x="10.5" y="15" width="5" height="9"/>
</svg>
<div class="menu">Menu</div>
<svg width="24" height="20" viewBox="0 0 24 20" style="left:38px;top:1024px" stroke="#262a31" stroke-width="2" stroke-linecap="round">
<path d="M2 3H22M2 11H22M2 19H22"/>
</svg>
<div class="en">EN</div>
<svg width="40" height="40" viewBox="0 0 40 40" style="left:1830px;top:10px" fill="none" stroke="#262a31" stroke-width="1.9">
<path d="M26.0 14.2 A7.9 7.9 0 1 0 16.7 24.6"/>
<path d="M11.2 13.3 H24.2 M11.2 18.1 H16.7"/>
<path d="M17.8 8.1 C13.3 11.5 13.3 20.5 17.0 24.3"/>
<path d="M17.8 8.1 C19.8 9.6 21.0 11.6 21.4 14.2"/>
<path d="M21.0 17.4 H32.8 Q33.8 17.4 33.8 18.4 V26.8 Q33.8 27.8 32.8 27.8 H26.6 L22.6 31.6 V27.8 H21.0 Q20.0 27.8 20.0 26.8 V18.4 Q20.0 17.4 21.0 17.4 Z" stroke="#dcdde0" stroke-width="4.5" stroke-linejoin="round"/>
<path d="M21.0 17.4 H32.8 Q33.8 17.4 33.8 18.4 V26.8 Q33.8 27.8 32.8 27.8 H26.6 L22.6 31.6 V27.8 H21.0 Q20.0 27.8 20.0 26.8 V18.4 Q20.0 17.4 21.0 17.4 Z" stroke-linejoin="round"/>
</svg>

<div class="ptitle">Panel Title</div>
<div class="yl" style="top:188.9px">150</div><div class="yl" style="top:226.9px">140</div><div class="yl" style="top:264.9px">130</div><div class="yl" style="top:302.9px">120</div><div class="yl" style="top:340.9px">110</div><div class="yl" style="top:378.9px">100</div><div class="yl" style="top:416.9px">90</div><div class="yl" style="top:454.9px">80</div><div class="yl" style="top:492.9px">70</div><div class="yl" style="top:530.9px">60</div><div class="yl" style="top:568.9px">50</div><div class="yl" style="top:606.9px">40</div><div class="yl" style="top:644.9px">30</div><div class="yl" style="top:682.9px">20</div><div class="yl" style="top:720.9px">10</div><div class="yl" style="top:758.9px">0</div><div class="yl" style="top:796.9px">&#8722;10</div><div class="yl" style="top:834.9px">&#8722;20</div><div class="yl" style="top:872.9px">&#8722;30</div><div class="yl" style="top:910.9px">&#8722;40</div>
<div class="xl" style="left:112.5px">15:30</div><div class="xl" style="left:419.5px">15:35</div><div class="xl" style="left:727.5px">15:40</div><div class="xl" style="left:1035.5px">15:45</div><div class="xl" style="left:1342.5px">15:50</div><div class="xl" style="left:1650.5px">15:55</div>
<div class="sw" style="left:22px;background:#73bf69"></div>
<div class="lg" style="left:44px">KEBPLCComService.Application.PLC_PRG.myAxes[0] actPosWcs</div>
<div class="sw" style="left:430px;background:#f2cc0c"></div>
<div class="lg" style="left:452px">KEBPLCComService.Application.PLC_PRG.myAxes[1] actPosWcs</div>
<div class="sw" style="left:835px;background:#8ab8ff"></div>
<div class="lg" style="left:857px">KEBPLCComService.Application.PLC_PRG.myAxes[2] actPosWcs</div>
</body></html>
